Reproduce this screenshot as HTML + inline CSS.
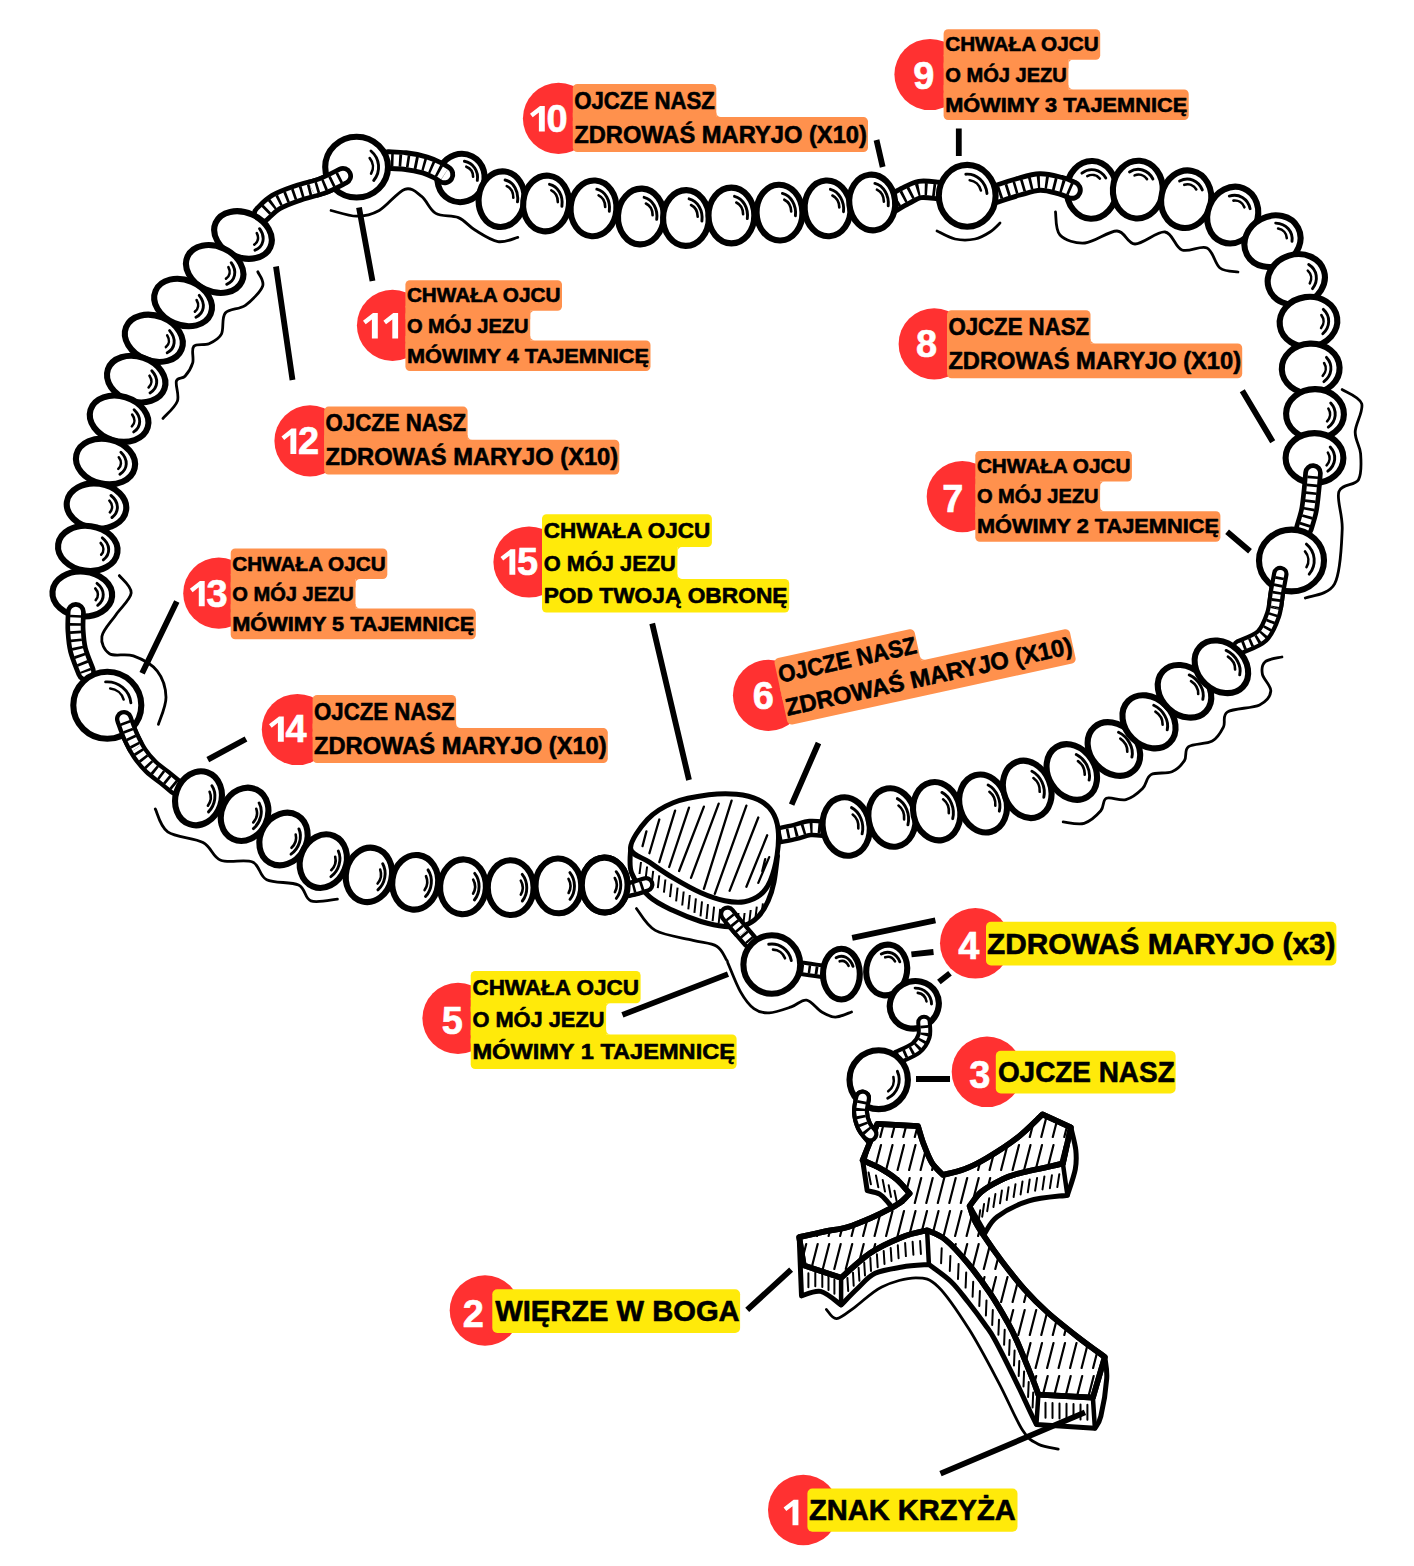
<!DOCTYPE html>
<html lang="pl"><head><meta charset="utf-8"><title>Różaniec</title>
<style>
html,body{margin:0;padding:0;background:#fff;}
body{width:1414px;height:1566px;overflow:hidden;font-family:"Liberation Sans",sans-serif;}
svg{display:block;}
</style></head><body>
<svg width="1414" height="1566" viewBox="0 0 1414 1566">
<defs><clipPath id="cc1"><circle cx="356.6" cy="167.1" r="50"/></clipPath><clipPath id="cc2"><circle cx="1291.5" cy="560.5" r="50"/></clipPath><clipPath id="cc3"><circle cx="107.3" cy="705.3" r="52"/></clipPath><clipPath id="cm"><path d="M630.6,848.2C630.8,852.3 628.5,864.9 631.6,873C634.7,881.1 642.5,890.4 649.4,896.7C656.3,903 664.6,906.5 673.2,910.6C681.8,914.7 692.3,918.9 700.9,921.5C709.5,924.1 717.4,925.8 724.7,926.4C732,927 738.9,927 744.5,925.4C750.1,923.8 754.3,920.6 758.3,916.5C762.2,912.4 765.6,906.5 768.2,900.7C770.8,895 772.5,889.5 774,882C775.5,874.5 776.9,860.3 777.5,856L700,850Z"/></clipPath><clipPath id="ct"><path d="M630.6,848.2C630.3,841.1 640.3,827.1 647.4,819.5C654.5,811.9 663,806.8 673.2,802.7C683.4,798.6 698.2,796.2 708.8,794.8C719.3,793.4 728.2,793.4 736.5,794.2C744.8,795 752.3,796.8 758.3,799.7C764.2,802.6 768.9,806.7 772.2,811.6C775.5,816.5 777.3,822.1 778.1,829.4C778.9,836.6 778.4,846.5 777.1,855.1C775.8,863.7 773,874.3 770.2,880.9C767.4,887.5 764.6,891.3 760.3,894.8C756,898.3 750.4,900.7 744.5,901.7C738.6,902.7 732,902.2 724.7,900.7C717.4,899.2 709.5,896.6 700.9,892.8C692.3,889 681.8,883 673.2,877.9C664.6,872.8 656.5,867 649.4,862.1C642.3,857.2 630.9,855.3 630.6,848.2Z"/></clipPath><clipPath id="cc4"><circle cx="729" cy="916" r="22"/></clipPath><clipPath id="cf"><path d="M877.3,1123.9L918,1126.2C919,1129.2 921.4,1138.3 923.7,1144.3C926,1150.3 928.5,1157.3 931.7,1162.4C934.9,1167.5 941,1172.8 942.9,1174.9C946.5,1174 957,1172 964.4,1169.2C971.8,1166.4 978.2,1163.2 987.1,1157.9C996,1152.6 1008.4,1144.8 1017.6,1137.5C1026.8,1130.2 1038.3,1118.2 1042.5,1114.4L1070.8,1127.3L1062.9,1163.6C1055.4,1165.3 1028.1,1170.9 1017.6,1173.7C1007.1,1176.5 1006,1177.5 1000,1180.5C994,1183.5 986.5,1187.5 981.4,1191.8C976.3,1196 971.6,1203.6 969.6,1206C970.5,1208.4 972.2,1215.2 974.7,1220.4C977.2,1225.6 980.4,1230.5 984.9,1237.3C989.4,1244.1 995.2,1252.4 1001.8,1261.1C1008.4,1269.8 1017,1280.9 1024.5,1289.4C1032,1297.9 1038.2,1304 1047.1,1312C1056,1320 1068.4,1329.7 1078,1337.2C1087.6,1344.7 1100.3,1353.7 1104.8,1357L1092.9,1397.6L1038.4,1394.7C1037.4,1392 1036.2,1387.9 1032.5,1378.8C1028.8,1369.7 1020.7,1349.4 1016.5,1340C1012.3,1330.6 1011.8,1329.9 1007.5,1322.2C1003.2,1314.5 997.1,1303.7 990.5,1293.9C983.9,1284.1 975.4,1272.5 967.9,1263.4C960.4,1254.4 952.1,1245.1 945.3,1239.6C938.5,1234.1 930.1,1231.8 927.1,1230.3C923,1231.4 911.6,1233.3 902.2,1237.1C892.8,1240.9 880.7,1246.1 870.5,1252.9C860.3,1259.7 846,1273.7 841.1,1277.8L803.8,1265.4L799.2,1237.1C803.6,1236.1 817.2,1233.1 825.3,1231.4C833.4,1229.7 839.9,1229.5 848,1227C856.1,1224.5 866.9,1219.7 873.9,1216.7C880.9,1213.7 885.3,1211.2 889.8,1208.8C894.3,1206.3 897.8,1204.5 901.1,1202C904.4,1199.5 908.2,1194.9 909.6,1193.5C907.4,1191.2 901.6,1183.6 896.6,1179.4C891.6,1175.2 885.3,1171.3 879.6,1168.1C873.9,1164.9 865.4,1161.5 862.6,1160.2Z"/></clipPath></defs>
<rect width="1414" height="1566" fill="#fff"/>
<g id="art">
<path d="M331.1,210.5C335.4,211.4 348.6,216.2 356.6,216.2C364.6,216.2 371.2,215 379.2,210.5C387.2,206 397.6,191.7 404.7,189.3C411.8,187 416.4,192.4 421.6,196.4C426.8,200.4 429.7,209.9 435.8,213.4C441.9,216.9 451.8,214.8 458.4,217.6C465,220.4 468.8,226.3 475.4,230.3C482,234.3 490.9,240.4 498,241.6C505.1,242.8 514.5,238.1 517.8,237.4" fill="none" stroke="#000" stroke-width="2.8" stroke-linecap="round"/>
<path d="M257.8,271.8C258.6,274.2 264.7,280.6 262.6,286.2C260.5,291.8 251.6,300.8 245.4,305.3C239.2,309.8 229.3,308.2 225.3,313C221.3,317.8 224.1,329 221.4,334.1C218.7,339.2 213.6,341.6 209,343.7C204.4,345.8 196.4,343.3 193.7,346.5C191,349.7 194.1,357.9 192.7,362.8C191.2,367.8 187.7,373.2 185,376.2C182.3,379.2 177.7,376.9 176.4,381C175.1,385.1 179.6,394.9 177.4,401.1C175.2,407.3 165.4,415.5 163,418.4" fill="none" stroke="#000" stroke-width="2.8" stroke-linecap="round"/>
<path d="M937,231C940,232.3 948.7,237.7 955,239C961.3,240.3 969.2,240.2 975,239C980.8,237.8 985.8,234.7 990,232C994.2,229.3 998.3,224.5 1000,223" fill="none" stroke="#000" stroke-width="2.8" stroke-linecap="round"/>
<path d="M1055.5,212C1056.2,215.8 1055.1,229.8 1060,235C1064.9,240.2 1075.5,243.7 1085,243C1094.5,242.3 1108.7,230.8 1117,231C1125.3,231.2 1127,243.8 1135,244C1143,244.2 1157.2,231 1165,232C1172.8,233 1175,247.3 1182,250C1189,252.7 1200.7,245 1207,248C1213.3,251 1214.8,264 1220,268C1225.2,272 1235,271.3 1238,272" fill="none" stroke="#000" stroke-width="2.8" stroke-linecap="round"/>
<path d="M1342.2,389.6C1345.5,392 1359.5,396.6 1361.7,403.7C1363.9,410.8 1355.4,423.6 1355.2,431.9C1355,440.2 1360,445.6 1360.6,453.6C1361.1,461.6 1362.1,473.4 1358.5,479.7C1354.9,486 1341.6,483.3 1338.9,491.6C1336.2,499.9 1342.9,514.2 1342.2,529.6C1341.5,545 1340.8,572.5 1334.6,583.9C1328.4,595.3 1310.2,595.6 1305.3,598" fill="none" stroke="#000" stroke-width="2.8" stroke-linecap="round"/>
<path d="M1281.9,657C1279.1,657.8 1268.5,658.8 1265.2,661.7C1262,664.6 1261.5,669.3 1262.4,674.2C1263.3,679.1 1271.3,685.9 1270.8,691C1270.3,696.1 1266.8,701.4 1259.6,704.9C1252.4,708.4 1233.6,708.2 1227.6,711.9C1221.6,715.6 1226,722.3 1223.4,727.2C1220.9,732.1 1218.1,737.9 1212.3,741.1C1206.5,744.4 1193.2,743.5 1188.6,746.7C1183.9,750 1187.2,756.4 1184.4,760.6C1181.6,764.8 1177.5,769.5 1171.9,771.8C1166.3,774.1 1155.9,771.8 1151,774.6C1146.1,777.4 1146.8,784.3 1142.6,788.5C1138.4,792.7 1131.9,798 1125.9,799.6C1119.9,801.2 1110.6,796.3 1106.4,798.2C1102.2,800.1 1104.5,806.6 1100.8,810.8C1097.1,815 1090.4,821.4 1084.1,823.3C1077.8,825.1 1066.7,822.1 1063.2,821.9" fill="none" stroke="#000" stroke-width="2.8" stroke-linecap="round"/>
<path d="M119.3,575.6C121.3,578.5 131.8,586.4 131.2,592.9C130.6,599.4 120.9,607.5 116,614.7C111.1,622 103,629.9 101.9,636.4C100.8,642.9 104.2,650.5 109.5,653.7C114.8,657 125.4,653 133.4,655.9C141.4,658.8 151.9,664.2 157.3,671.1C162.7,678 165.8,688.3 166,697.2C166.2,706.1 159.7,719.8 158.4,724.3" fill="none" stroke="#000" stroke-width="2.8" stroke-linecap="round"/>
<path d="M155.3,809C157.4,812.8 159.8,826.3 167.7,831.9C175.6,837.5 194.2,837.8 203,842.5C211.8,847.2 212.4,857 220.7,860.2C228.9,863.5 244.8,858.8 252.5,862C260.2,865.2 259,875.9 266.7,879.7C274.4,883.5 291.1,881.5 298.5,885C305.9,888.5 304.4,898.5 310.9,900.9C317.4,903.2 333,899.4 337.4,899.1" fill="none" stroke="#000" stroke-width="2.8" stroke-linecap="round"/>
<path d="M636.5,908.6C639.6,912.2 645.9,925.1 655.3,930.4C664.7,935.7 682.8,937.7 693,940.3C703.2,942.9 711.1,942.9 716.7,946.2C722.3,949.5 724.6,957 726.6,960C728.6,963 726.2,959.2 728.5,964.5C730.8,969.8 736.2,984.2 740.4,991.6C744.6,999 749.1,1005.1 753.9,1008.6C758.7,1012.1 763,1013.2 769.2,1012.9C775.4,1012.6 785.1,1009 791.3,1006.9C797.5,1004.8 801.5,999.2 806.6,1000.1C811.7,1001 817,1009.2 821.8,1012C826.6,1014.8 830.4,1017.1 835.4,1017.1C840.4,1017.1 848.8,1012.9 851.5,1012" fill="none" stroke="#000" stroke-width="2.8" stroke-linecap="round"/>
<path d="M826.4,1309.5C828.1,1311 831.9,1319 836.6,1318.6C841.3,1318.2 847.2,1312.6 854.7,1307.3C862.2,1302 871.6,1291.8 881.8,1286.9C892,1282 906.4,1277.8 915.8,1277.8C925.2,1277.8 929.5,1278.3 938.4,1286.9C947.3,1295.5 959,1313.3 969.1,1329.3C979.2,1345.3 989.9,1366 998.8,1382.8C1007.7,1399.6 1016,1420.1 1022.6,1430.3C1029.2,1440.5 1032.5,1441.1 1038.4,1444.2C1044.3,1447.3 1054.9,1448.3 1058.2,1449.1" fill="none" stroke="#000" stroke-width="2.8" stroke-linecap="round"/>
<path d="M893,203C895,201.8 900.5,198.2 905,196C909.5,193.8 914.5,190.4 920,189.5C925.5,188.6 935,190.3 938,190.5" fill="none" stroke="#000" stroke-width="21.5" stroke-linecap="round"/><path d="M893,203C895,201.8 900.5,198.2 905,196C909.5,193.8 914.5,190.4 920,189.5C925.5,188.6 935,190.3 938,190.5" fill="none" stroke="#fff" stroke-width="11.7" stroke-linecap="round"/><path d="M893,203C895,201.8 900.5,198.2 905,196C909.5,193.8 914.5,190.4 920,189.5C925.5,188.6 935,190.3 938,190.5" fill="none" stroke="#000" stroke-width="12.3" stroke-dasharray="2.7 5.3" stroke-dashoffset="-3"/>
<path d="M776,836C779.2,835.3 789.3,833.3 795,832C800.7,830.7 804.8,828.5 810,828C815.2,827.5 823.3,828.8 826,829" fill="none" stroke="#000" stroke-width="18.5" stroke-linecap="round"/><path d="M776,836C779.2,835.3 789.3,833.3 795,832C800.7,830.7 804.8,828.5 810,828C815.2,827.5 823.3,828.8 826,829" fill="none" stroke="#fff" stroke-width="9.7" stroke-linecap="round"/><path d="M776,836C779.2,835.3 789.3,833.3 795,832C800.7,830.7 804.8,828.5 810,828C815.2,827.5 823.3,828.8 826,829" fill="none" stroke="#000" stroke-width="10.3" stroke-dasharray="2.7 5.3" stroke-dashoffset="-3"/>
<path d="M1280.3,574C1279.8,577 1278.2,585.2 1277,592C1275.8,598.8 1275.5,607.7 1273,615C1270.5,622.3 1267.5,630.7 1262,636C1256.5,641.3 1243.7,645.2 1240,647" fill="none" stroke="#000" stroke-width="16.5" stroke-linecap="round"/><path d="M1280.3,574C1279.8,577 1278.2,585.2 1277,592C1275.8,598.8 1275.5,607.7 1273,615C1270.5,622.3 1267.5,630.7 1262,636C1256.5,641.3 1243.7,645.2 1240,647" fill="none" stroke="#fff" stroke-width="8.1" stroke-linecap="round"/><path d="M1280.3,574C1279.8,577 1278.2,585.2 1277,592C1275.8,598.8 1275.5,607.7 1273,615C1270.5,622.3 1267.5,630.7 1262,636C1256.5,641.3 1243.7,645.2 1240,647" fill="none" stroke="#000" stroke-width="8.7" stroke-dasharray="2.7 4.7" stroke-dashoffset="-3"/>
<path d="M124,719C125.1,721.9 127.9,730.5 130.5,736.2C133.1,741.9 136.2,748.1 139.6,753.2C143,758.3 146.8,762.7 150.9,766.7C155.1,770.8 160.3,774.1 164.5,777.5C168.7,780.9 174.1,785.4 176,787" fill="none" stroke="#000" stroke-width="18" stroke-linecap="round"/><path d="M124,719C125.1,721.9 127.9,730.5 130.5,736.2C133.1,741.9 136.2,748.1 139.6,753.2C143,758.3 146.8,762.7 150.9,766.7C155.1,770.8 160.3,774.1 164.5,777.5C168.7,780.9 174.1,785.4 176,787" fill="none" stroke="#fff" stroke-width="9.4" stroke-linecap="round"/><path d="M124,719C125.1,721.9 127.9,730.5 130.5,736.2C133.1,741.9 136.2,748.1 139.6,753.2C143,758.3 146.8,762.7 150.9,766.7C155.1,770.8 160.3,774.1 164.5,777.5C168.7,780.9 174.1,785.4 176,787" fill="none" stroke="#000" stroke-width="10" stroke-dasharray="2.7 5.3" stroke-dashoffset="-3"/>
<path d="M343,176C339.5,177.7 329.5,183.2 322,186C314.5,188.8 305.7,190.3 298,193C290.3,195.7 282,198.5 276,202C270,205.5 264.3,212 262,214" fill="none" stroke="#000" stroke-width="20" stroke-linecap="round"/><path d="M343,176C339.5,177.7 329.5,183.2 322,186C314.5,188.8 305.7,190.3 298,193C290.3,195.7 282,198.5 276,202C270,205.5 264.3,212 262,214" fill="none" stroke="#fff" stroke-width="10.6" stroke-linecap="round"/><path d="M343,176C339.5,177.7 329.5,183.2 322,186C314.5,188.8 305.7,190.3 298,193C290.3,195.7 282,198.5 276,202C270,205.5 264.3,212 262,214" fill="none" stroke="#000" stroke-width="11.2" stroke-dasharray="2.7 5.3" stroke-dashoffset="-3"/>
<path d="M798,968C800,968.2 805.7,968.9 810,969.5C814.3,970.1 821.7,971.2 824,971.5" fill="none" stroke="#000" stroke-width="15.5" stroke-linecap="round"/><path d="M798,968C800,968.2 805.7,968.9 810,969.5C814.3,970.1 821.7,971.2 824,971.5" fill="none" stroke="#fff" stroke-width="7.5" stroke-linecap="round"/><path d="M798,968C800,968.2 805.7,968.9 810,969.5C814.3,970.1 821.7,971.2 824,971.5" fill="none" stroke="#000" stroke-width="8.1" stroke-dasharray="2.7 4.5" stroke-dashoffset="-3"/>
<path d="M622,891C624.2,890.5 631,889.1 635,888C639,886.9 644.2,885.1 646,884.5" fill="none" stroke="#000" stroke-width="16" stroke-linecap="round"/><path d="M622,891C624.2,890.5 631,889.1 635,888C639,886.9 644.2,885.1 646,884.5" fill="none" stroke="#fff" stroke-width="7.4" stroke-linecap="round"/><path d="M622,891C624.2,890.5 631,889.1 635,888C639,886.9 644.2,885.1 646,884.5" fill="none" stroke="#000" stroke-width="8" stroke-dasharray="2.7 5.3" stroke-dashoffset="-3"/>
<g transform="translate(461 178) rotate(27.6)"><ellipse rx="23.4" ry="24.4" fill="#fff" stroke="#000" stroke-width="6.1"/></g><path d="M464.4,161.3 A16.4,17.1 27.6 0 1 477.3,180.4" fill="none" stroke="#000" stroke-width="2.9" stroke-linecap="round"/><path d="M466.3,166.7 A10.8,11.2 27.6 0 1 473.1,176.8" fill="none" stroke="#000" stroke-width="2.6" stroke-linecap="round"/><g transform="translate(501.6 199.2) rotate(187)"><ellipse rx="22.9" ry="27.9" fill="#fff" stroke="#000" stroke-width="6.1"/></g><path d="M505.1,180 A16.1,19.6 187 0 1 517.5,201.8" fill="none" stroke="#000" stroke-width="2.9" stroke-linecap="round"/><path d="M506.8,186.1 A10.6,12.9 187 0 1 513.3,197.7" fill="none" stroke="#000" stroke-width="2.6" stroke-linecap="round"/><g transform="translate(546.1 203.5) rotate(186)"><ellipse rx="22.9" ry="27.9" fill="#fff" stroke="#000" stroke-width="6.1"/></g><path d="M549.5,184.3 A16.1,19.6 186 0 1 561.9,206.2" fill="none" stroke="#000" stroke-width="2.9" stroke-linecap="round"/><path d="M551.3,190.4 A10.6,12.9 186 0 1 557.8,202.1" fill="none" stroke="#000" stroke-width="2.6" stroke-linecap="round"/><g transform="translate(593.5 208.4) rotate(184)"><ellipse rx="22.9" ry="27.9" fill="#fff" stroke="#000" stroke-width="6.1"/></g><path d="M596.8,189.2 A16.1,19.6 184 0 1 609.3,211.2" fill="none" stroke="#000" stroke-width="2.9" stroke-linecap="round"/><path d="M598.6,195.4 A10.6,12.9 184 0 1 605.2,207" fill="none" stroke="#000" stroke-width="2.6" stroke-linecap="round"/><g transform="translate(640.9 216.5) rotate(183)"><ellipse rx="22.9" ry="27.9" fill="#fff" stroke="#000" stroke-width="6.1"/></g><path d="M644.1,197.3 A16.1,19.6 183 0 1 656.7,219.4" fill="none" stroke="#000" stroke-width="2.9" stroke-linecap="round"/><path d="M645.9,203.5 A10.6,12.9 183 0 1 652.6,215.2" fill="none" stroke="#000" stroke-width="2.6" stroke-linecap="round"/><g transform="translate(686 218) rotate(181)"><ellipse rx="22.9" ry="27.9" fill="#fff" stroke="#000" stroke-width="6.1"/></g><path d="M689.1,198.8 A16.1,19.6 181 0 1 701.9,221" fill="none" stroke="#000" stroke-width="2.9" stroke-linecap="round"/><path d="M691,205 A10.6,12.9 181 0 1 697.7,216.8" fill="none" stroke="#000" stroke-width="2.6" stroke-linecap="round"/><g transform="translate(731.4 215.5) rotate(180)"><ellipse rx="22.9" ry="27.9" fill="#fff" stroke="#000" stroke-width="6.1"/></g><path d="M734.5,196.3 A16.1,19.6 180 0 1 747.3,218.6" fill="none" stroke="#000" stroke-width="2.9" stroke-linecap="round"/><path d="M736.3,202.5 A10.6,12.9 180 0 1 743.1,214.3" fill="none" stroke="#000" stroke-width="2.6" stroke-linecap="round"/><g transform="translate(779.5 212.6) rotate(178)"><ellipse rx="22.9" ry="27.9" fill="#fff" stroke="#000" stroke-width="6.1"/></g><path d="M782.4,193.4 A16.1,19.6 178 0 1 795.4,215.8" fill="none" stroke="#000" stroke-width="2.9" stroke-linecap="round"/><path d="M784.3,199.7 A10.6,12.9 178 0 1 791.2,211.5" fill="none" stroke="#000" stroke-width="2.6" stroke-linecap="round"/><g transform="translate(827.6 208.4) rotate(176)"><ellipse rx="22.9" ry="27.9" fill="#fff" stroke="#000" stroke-width="6.1"/></g><path d="M830.4,189.3 A16.1,19.6 176 0 1 843.5,211.7" fill="none" stroke="#000" stroke-width="2.9" stroke-linecap="round"/><path d="M832.4,195.5 A10.6,12.9 176 0 1 839.3,207.4" fill="none" stroke="#000" stroke-width="2.6" stroke-linecap="round"/><g transform="translate(872.2 202.5) rotate(174)"><ellipse rx="22.9" ry="27.9" fill="#fff" stroke="#000" stroke-width="6.1"/></g><path d="M874.9,183.4 A16.1,19.6 174 0 1 888.2,205.9" fill="none" stroke="#000" stroke-width="2.9" stroke-linecap="round"/><path d="M876.9,189.7 A10.6,12.9 174 0 1 883.9,201.6" fill="none" stroke="#000" stroke-width="2.6" stroke-linecap="round"/>
<g transform="translate(1091.6 189.9) rotate(182)"><ellipse rx="24.9" ry="28.9" fill="#fff" stroke="#000" stroke-width="6.1"/></g><path d="M1081.9,173.2 A17.5,20.3 182 0 1 1105.8,177.9" fill="none" stroke="#000" stroke-width="2.9" stroke-linecap="round"/><path d="M1087.3,176.1 A11.5,13.3 182 0 1 1099.9,178.6" fill="none" stroke="#000" stroke-width="2.6" stroke-linecap="round"/><g transform="translate(1137.8 189.6) rotate(184)"><ellipse rx="24.9" ry="28.9" fill="#fff" stroke="#000" stroke-width="6.1"/></g><path d="M1129.5,172 A17.5,20.3 184 0 1 1152.9,179" fill="none" stroke="#000" stroke-width="2.9" stroke-linecap="round"/><path d="M1134.6,175.4 A11.5,13.3 184 0 1 1147,179.1" fill="none" stroke="#000" stroke-width="2.6" stroke-linecap="round"/><g transform="translate(1186.2 199.2) rotate(192)"><ellipse rx="24.9" ry="28.9" fill="#fff" stroke="#000" stroke-width="6.1"/></g><path d="M1179.6,181 A17.5,20.3 192 0 1 1202.3,189.9" fill="none" stroke="#000" stroke-width="2.9" stroke-linecap="round"/><path d="M1184.3,184.8 A11.5,13.3 192 0 1 1196.3,189.5" fill="none" stroke="#000" stroke-width="2.6" stroke-linecap="round"/><g transform="translate(1232.7 215.1) rotate(202)"><ellipse rx="24.9" ry="28.9" fill="#fff" stroke="#000" stroke-width="6.1"/></g><path d="M1229.3,196.1 A17.5,20.3 202 0 1 1250.1,208.7" fill="none" stroke="#000" stroke-width="2.9" stroke-linecap="round"/><path d="M1233.4,200.6 A11.5,13.3 202 0 1 1244.4,207.3" fill="none" stroke="#000" stroke-width="2.6" stroke-linecap="round"/><g transform="translate(1272.5 241.2) rotate(242)"><ellipse rx="24.9" ry="28.9" fill="#fff" stroke="#000" stroke-width="6.1"/></g><path d="M1275.7,223.1 A17.5,20.3 242 0 1 1292,241.3" fill="none" stroke="#000" stroke-width="2.9" stroke-linecap="round"/><path d="M1278.1,228.5 A11.5,13.3 242 0 1 1286.8,238.1" fill="none" stroke="#000" stroke-width="2.6" stroke-linecap="round"/><g transform="translate(1296.3 279.4) rotate(253)"><ellipse rx="24.9" ry="28.9" fill="#fff" stroke="#000" stroke-width="6.1"/></g><path d="M1308.7,264.6 A17.5,20.3 253 0 1 1312.5,288.7" fill="none" stroke="#000" stroke-width="2.9" stroke-linecap="round"/><path d="M1307.8,270.6 A11.5,13.3 253 0 1 1309.8,283.3" fill="none" stroke="#000" stroke-width="2.6" stroke-linecap="round"/><g transform="translate(1308.5 321.8) rotate(262)"><ellipse rx="24.9" ry="28.9" fill="#fff" stroke="#000" stroke-width="6.1"/></g><path d="M1323.3,309.4 A17.5,20.3 262 0 1 1322.8,333.7" fill="none" stroke="#000" stroke-width="2.9" stroke-linecap="round"/><path d="M1321.4,315.1 A11.5,13.3 262 0 1 1321.1,328" fill="none" stroke="#000" stroke-width="2.6" stroke-linecap="round"/><g transform="translate(1310.7 368.5) rotate(268)"><ellipse rx="24.9" ry="28.9" fill="#fff" stroke="#000" stroke-width="6.1"/></g><path d="M1326.5,357.4 A17.5,20.3 268 0 1 1323.9,381.6" fill="none" stroke="#000" stroke-width="2.9" stroke-linecap="round"/><path d="M1324.1,363 A11.5,13.3 268 0 1 1322.7,375.8" fill="none" stroke="#000" stroke-width="2.6" stroke-linecap="round"/><g transform="translate(1315 414) rotate(271)"><ellipse rx="24.9" ry="28.9" fill="#fff" stroke="#000" stroke-width="6.1"/></g><path d="M1330.7,403 A17.5,20.3 271 0 1 1328.3,427.2" fill="none" stroke="#000" stroke-width="2.9" stroke-linecap="round"/><path d="M1328.4,408.6 A11.5,13.3 271 0 1 1327.1,421.4" fill="none" stroke="#000" stroke-width="2.6" stroke-linecap="round"/><g transform="translate(1314.5 458) rotate(270)"><ellipse rx="24.9" ry="28.9" fill="#fff" stroke="#000" stroke-width="6.1"/></g><path d="M1330.2,447 A17.5,20.3 270 0 1 1327.8,471.2" fill="none" stroke="#000" stroke-width="2.9" stroke-linecap="round"/><path d="M1327.9,452.6 A11.5,13.3 270 0 1 1326.6,465.4" fill="none" stroke="#000" stroke-width="2.6" stroke-linecap="round"/>
<g transform="translate(846.2 826.5) rotate(170)"><ellipse rx="23.4" ry="29.4" fill="#fff" stroke="#000" stroke-width="6.1"/></g><path d="M851.5,807.6 A16.4,20.6 170 0 1 862.1,833.8" fill="none" stroke="#000" stroke-width="2.9" stroke-linecap="round"/><path d="M852.7,814.5 A10.8,13.5 170 0 1 858.3,828.4" fill="none" stroke="#000" stroke-width="2.6" stroke-linecap="round"/><g transform="translate(892 817.5) rotate(170)"><ellipse rx="23.4" ry="29.4" fill="#fff" stroke="#000" stroke-width="6.1"/></g><path d="M897.3,798.6 A16.4,20.6 170 0 1 907.9,824.8" fill="none" stroke="#000" stroke-width="2.9" stroke-linecap="round"/><path d="M898.5,805.5 A10.8,13.5 170 0 1 904.1,819.4" fill="none" stroke="#000" stroke-width="2.6" stroke-linecap="round"/><g transform="translate(936.7 811.2) rotate(168)"><ellipse rx="23.4" ry="29.4" fill="#fff" stroke="#000" stroke-width="6.1"/></g><path d="M941.9,792.4 A16.4,20.6 168 0 1 952.7,818.7" fill="none" stroke="#000" stroke-width="2.9" stroke-linecap="round"/><path d="M943.1,799.3 A10.8,13.5 168 0 1 948.8,813.2" fill="none" stroke="#000" stroke-width="2.6" stroke-linecap="round"/><g transform="translate(983.1 803.5) rotate(164)"><ellipse rx="23.4" ry="29.4" fill="#fff" stroke="#000" stroke-width="6.1"/></g><path d="M988.1,785 A16.4,20.6 164 0 1 999.3,811.2" fill="none" stroke="#000" stroke-width="2.9" stroke-linecap="round"/><path d="M989.4,791.8 A10.8,13.5 164 0 1 995.3,805.7" fill="none" stroke="#000" stroke-width="2.6" stroke-linecap="round"/><g transform="translate(1027.2 789.4) rotate(158)"><ellipse rx="23.4" ry="29.4" fill="#fff" stroke="#000" stroke-width="6.1"/></g><path d="M1031.9,771.2 A16.4,20.6 158 0 1 1043.8,797.3" fill="none" stroke="#000" stroke-width="2.9" stroke-linecap="round"/><path d="M1033.4,778 A10.8,13.5 158 0 1 1039.7,791.8" fill="none" stroke="#000" stroke-width="2.6" stroke-linecap="round"/><g transform="translate(1071.8 772) rotate(148)"><ellipse rx="23.4" ry="29.4" fill="#fff" stroke="#000" stroke-width="6.1"/></g><path d="M1076.3,754.5 A16.4,20.6 148 0 1 1089.1,780.1" fill="none" stroke="#000" stroke-width="2.9" stroke-linecap="round"/><path d="M1078,761.1 A10.8,13.5 148 0 1 1084.7,774.7" fill="none" stroke="#000" stroke-width="2.6" stroke-linecap="round"/><g transform="translate(1113.9 749) rotate(138)"><ellipse rx="23.4" ry="29.4" fill="#fff" stroke="#000" stroke-width="6.1"/></g><path d="M1118.5,732.3 A16.4,20.6 138 0 1 1131.9,757.1" fill="none" stroke="#000" stroke-width="2.9" stroke-linecap="round"/><path d="M1120.3,738.6 A10.8,13.5 138 0 1 1127.3,751.8" fill="none" stroke="#000" stroke-width="2.6" stroke-linecap="round"/><g transform="translate(1149 721.8) rotate(135)"><ellipse rx="23.4" ry="29.4" fill="#fff" stroke="#000" stroke-width="6.1"/></g><path d="M1153.7,705.3 A16.4,20.6 135 0 1 1167.2,729.8" fill="none" stroke="#000" stroke-width="2.9" stroke-linecap="round"/><path d="M1155.4,711.6 A10.8,13.5 135 0 1 1162.6,724.6" fill="none" stroke="#000" stroke-width="2.6" stroke-linecap="round"/><g transform="translate(1184.5 691.3) rotate(133)"><ellipse rx="23.4" ry="29.4" fill="#fff" stroke="#000" stroke-width="6.1"/></g><path d="M1189.2,674.9 A16.4,20.6 133 0 1 1202.8,699.3" fill="none" stroke="#000" stroke-width="2.9" stroke-linecap="round"/><path d="M1191,681.2 A10.8,13.5 133 0 1 1198.2,694" fill="none" stroke="#000" stroke-width="2.6" stroke-linecap="round"/><g transform="translate(1221.4 666.8) rotate(133)"><ellipse rx="23.4" ry="29.4" fill="#fff" stroke="#000" stroke-width="6.1"/></g><path d="M1226.1,650.4 A16.4,20.6 133 0 1 1239.7,674.8" fill="none" stroke="#000" stroke-width="2.9" stroke-linecap="round"/><path d="M1227.9,656.7 A10.8,13.5 133 0 1 1235.1,669.5" fill="none" stroke="#000" stroke-width="2.6" stroke-linecap="round"/>
<g transform="translate(198.5 798.3) rotate(19.1)"><ellipse rx="22.9" ry="27.4" fill="#fff" stroke="#000" stroke-width="6.1"/></g><path d="M211.9,785.7 A16.1,19.2 19.1 0 1 208.5,811.9" fill="none" stroke="#000" stroke-width="2.9" stroke-linecap="round"/><path d="M209.6,791.8 A10.6,12.6 19.1 0 1 207.9,805.7" fill="none" stroke="#000" stroke-width="2.6" stroke-linecap="round"/><g transform="translate(244.6 814.3) rotate(25.6)"><ellipse rx="22.9" ry="27.4" fill="#fff" stroke="#000" stroke-width="6.1"/></g><path d="M259.1,802.9 A16.1,19.2 25.6 0 1 253.4,828.6" fill="none" stroke="#000" stroke-width="2.9" stroke-linecap="round"/><path d="M256.3,808.8 A10.6,12.6 25.6 0 1 253.3,822.4" fill="none" stroke="#000" stroke-width="2.6" stroke-linecap="round"/><g transform="translate(283.5 839) rotate(30.7)"><ellipse rx="22.9" ry="27.4" fill="#fff" stroke="#000" stroke-width="6.1"/></g><path d="M298.9,828.9 A16.1,19.2 30.7 0 1 291,854.1" fill="none" stroke="#000" stroke-width="2.9" stroke-linecap="round"/><path d="M295.7,834.5 A10.6,12.6 30.7 0 1 291.5,847.8" fill="none" stroke="#000" stroke-width="2.6" stroke-linecap="round"/><g transform="translate(323.3 861.1) rotate(22.8)"><ellipse rx="22.9" ry="27.4" fill="#fff" stroke="#000" stroke-width="6.1"/></g><path d="M338.3,851 A16.1,19.2 22.8 0 1 330.9,876.6" fill="none" stroke="#000" stroke-width="2.9" stroke-linecap="round"/><path d="M335.2,856.7 A10.6,12.6 22.8 0 1 331.2,870.2" fill="none" stroke="#000" stroke-width="2.6" stroke-linecap="round"/><g transform="translate(368.9 874.9) rotate(13)"><ellipse rx="22.9" ry="27.4" fill="#fff" stroke="#000" stroke-width="6.1"/></g><path d="M382.7,863.7 A16.1,19.2 13 0 1 377.9,889.9" fill="none" stroke="#000" stroke-width="2.9" stroke-linecap="round"/><path d="M380.2,869.6 A10.6,12.6 13 0 1 377.6,883.5" fill="none" stroke="#000" stroke-width="2.6" stroke-linecap="round"/><g transform="translate(415.2 882.3) rotate(7.2)"><ellipse rx="22.9" ry="27.4" fill="#fff" stroke="#000" stroke-width="6.1"/></g><path d="M428,869.9 A16.1,19.2 7.2 0 1 425.5,896.5" fill="none" stroke="#000" stroke-width="2.9" stroke-linecap="round"/><path d="M426,876.1 A10.6,12.6 7.2 0 1 424.6,890.1" fill="none" stroke="#000" stroke-width="2.6" stroke-linecap="round"/><g transform="translate(463 886.8) rotate(3.2)"><ellipse rx="22.9" ry="27.4" fill="#fff" stroke="#000" stroke-width="6.1"/></g><path d="M474.7,873.3 A16.1,19.2 3.2 0 1 474.4,900" fill="none" stroke="#000" stroke-width="2.9" stroke-linecap="round"/><path d="M473.2,879.6 A10.6,12.6 3.2 0 1 473.1,893.7" fill="none" stroke="#000" stroke-width="2.6" stroke-linecap="round"/><g transform="translate(510.7 887.6) rotate(-0.5)"><ellipse rx="22.9" ry="27.4" fill="#fff" stroke="#000" stroke-width="6.1"/></g><path d="M522.2,874.3 A16.1,19.2 -0.5 0 1 522.3,901" fill="none" stroke="#000" stroke-width="2.9" stroke-linecap="round"/><path d="M520.8,880.6 A10.6,12.6 -0.5 0 1 520.8,894.7" fill="none" stroke="#000" stroke-width="2.6" stroke-linecap="round"/><g transform="translate(558.4 885.9) rotate(-1.6)"><ellipse rx="22.9" ry="27.4" fill="#fff" stroke="#000" stroke-width="6.1"/></g><path d="M569.9,872.6 A16.1,19.2 -1.6 0 1 570,899.3" fill="none" stroke="#000" stroke-width="2.9" stroke-linecap="round"/><path d="M568.5,878.9 A10.6,12.6 -1.6 0 1 568.6,893" fill="none" stroke="#000" stroke-width="2.6" stroke-linecap="round"/><g transform="translate(604.7 885) rotate(-1.1)"><ellipse rx="22.9" ry="27.4" fill="#fff" stroke="#000" stroke-width="6.1"/></g><path d="M616.2,871.7 A16.1,19.2 -1.1 0 1 616.3,898.4" fill="none" stroke="#000" stroke-width="2.9" stroke-linecap="round"/><path d="M614.8,878 A10.6,12.6 -1.1 0 1 614.9,892.1" fill="none" stroke="#000" stroke-width="2.6" stroke-linecap="round"/>
<g transform="translate(243 235) rotate(114)"><ellipse rx="22.4" ry="29.9" fill="#fff" stroke="#000" stroke-width="6.1"/></g><path d="M259.6,228.7 A15.7,21 114 0 1 255,250.2" fill="none" stroke="#000" stroke-width="2.9" stroke-linecap="round"/><path d="M256.8,233.2 A10.3,13.8 114 0 1 254.3,244.6" fill="none" stroke="#000" stroke-width="2.6" stroke-linecap="round"/><g transform="translate(214.7 269) rotate(115)"><ellipse rx="22.4" ry="29.9" fill="#fff" stroke="#000" stroke-width="6.1"/></g><path d="M231.2,262.7 A15.7,21 115 0 1 226.7,284.3" fill="none" stroke="#000" stroke-width="2.9" stroke-linecap="round"/><path d="M228.4,267.2 A10.3,13.8 115 0 1 226,278.7" fill="none" stroke="#000" stroke-width="2.6" stroke-linecap="round"/><g transform="translate(183.1 302.5) rotate(113)"><ellipse rx="22.4" ry="29.9" fill="#fff" stroke="#000" stroke-width="6.1"/></g><path d="M199.2,295.3 A15.7,21 113 0 1 195.9,317.2" fill="none" stroke="#000" stroke-width="2.9" stroke-linecap="round"/><path d="M196.6,300 A10.3,13.8 113 0 1 194.9,311.6" fill="none" stroke="#000" stroke-width="2.6" stroke-linecap="round"/><g transform="translate(153.8 338.3) rotate(112)"><ellipse rx="22.4" ry="29.9" fill="#fff" stroke="#000" stroke-width="6.1"/></g><path d="M169.6,330.6 A15.7,21 112 0 1 167.2,352.7" fill="none" stroke="#000" stroke-width="2.9" stroke-linecap="round"/><path d="M167.2,335.4 A10.3,13.8 112 0 1 165.9,347.1" fill="none" stroke="#000" stroke-width="2.6" stroke-linecap="round"/><g transform="translate(136.2 379.1) rotate(109)"><ellipse rx="22.4" ry="29.9" fill="#fff" stroke="#000" stroke-width="6.1"/></g><path d="M151.8,370.8 A15.7,21 109 0 1 150,392.9" fill="none" stroke="#000" stroke-width="2.9" stroke-linecap="round"/><path d="M149.5,375.7 A10.3,13.8 109 0 1 148.6,387.4" fill="none" stroke="#000" stroke-width="2.6" stroke-linecap="round"/><g transform="translate(119.1 418.7) rotate(107)"><ellipse rx="22.4" ry="29.9" fill="#fff" stroke="#000" stroke-width="6.1"/></g><path d="M134.1,409.7 A15.7,21 107 0 1 133.7,431.9" fill="none" stroke="#000" stroke-width="2.9" stroke-linecap="round"/><path d="M132.2,414.6 A10.3,13.8 107 0 1 131.9,426.4" fill="none" stroke="#000" stroke-width="2.6" stroke-linecap="round"/><g transform="translate(105.5 461.5) rotate(103)"><ellipse rx="22.4" ry="29.9" fill="#fff" stroke="#000" stroke-width="6.1"/></g><path d="M120.9,452.3 A15.7,21 103 0 1 119.9,474.3" fill="none" stroke="#000" stroke-width="2.9" stroke-linecap="round"/><path d="M118.8,457.3 A10.3,13.8 103 0 1 118.3,468.9" fill="none" stroke="#000" stroke-width="2.6" stroke-linecap="round"/><g transform="translate(96.5 506) rotate(98)"><ellipse rx="22.4" ry="29.9" fill="#fff" stroke="#000" stroke-width="6.1"/></g><path d="M111,495.5 A15.7,21 98 0 1 112,517.5" fill="none" stroke="#000" stroke-width="2.9" stroke-linecap="round"/><path d="M109.4,500.6 A10.3,13.8 98 0 1 109.9,512.3" fill="none" stroke="#000" stroke-width="2.6" stroke-linecap="round"/><g transform="translate(87.8 548.4) rotate(98)"><ellipse rx="22.4" ry="29.9" fill="#fff" stroke="#000" stroke-width="6.1"/></g><path d="M102.3,537.9 A15.7,21 98 0 1 103.3,559.9" fill="none" stroke="#000" stroke-width="2.9" stroke-linecap="round"/><path d="M100.7,543 A10.3,13.8 98 0 1 101.2,554.7" fill="none" stroke="#000" stroke-width="2.6" stroke-linecap="round"/><g transform="translate(82.3 594) rotate(95)"><ellipse rx="22.4" ry="29.9" fill="#fff" stroke="#000" stroke-width="6.1"/></g><path d="M97,583.4 A15.7,21 95 0 1 97.7,605.3" fill="none" stroke="#000" stroke-width="2.9" stroke-linecap="round"/><path d="M95.3,588.5 A10.3,13.8 95 0 1 95.7,600.1" fill="none" stroke="#000" stroke-width="2.6" stroke-linecap="round"/>
<path d="M388,160C390.8,160.2 398.8,160.2 405,161C411.2,161.8 419.5,163.4 425,165C430.5,166.6 434.8,168.9 438,170.5C441.2,172.1 443.4,173.8 444.5,174.5" fill="none" stroke="#000" stroke-width="21.5" stroke-linecap="round"/><path d="M388,160C390.8,160.2 398.8,160.2 405,161C411.2,161.8 419.5,163.4 425,165C430.5,166.6 434.8,168.9 438,170.5C441.2,172.1 443.4,173.8 444.5,174.5" fill="none" stroke="#fff" stroke-width="11.7" stroke-linecap="round"/><path d="M388,160C390.8,160.2 398.8,160.2 405,161C411.2,161.8 419.5,163.4 425,165C430.5,166.6 434.8,168.9 438,170.5C441.2,172.1 443.4,173.8 444.5,174.5" fill="none" stroke="#000" stroke-width="12.3" stroke-dasharray="2.7 5.3" stroke-dashoffset="-3"/>
<path d="M996,194C999.7,192.8 1010.7,189 1018,187C1025.3,185 1033,182.2 1040,182C1047,181.8 1054.7,184.2 1060,185.5C1065.3,186.8 1070,189.2 1072,190" fill="none" stroke="#000" stroke-width="21.5" stroke-linecap="round"/><path d="M996,194C999.7,192.8 1010.7,189 1018,187C1025.3,185 1033,182.2 1040,182C1047,181.8 1054.7,184.2 1060,185.5C1065.3,186.8 1070,189.2 1072,190" fill="none" stroke="#fff" stroke-width="11.7" stroke-linecap="round"/><path d="M996,194C999.7,192.8 1010.7,189 1018,187C1025.3,185 1033,182.2 1040,182C1047,181.8 1054.7,184.2 1060,185.5C1065.3,186.8 1070,189.2 1072,190" fill="none" stroke="#000" stroke-width="12.3" stroke-dasharray="2.7 5.3" stroke-dashoffset="-3"/>
<path d="M1313,473C1312.8,475.8 1312.2,483.8 1311.5,490C1310.8,496.2 1310.2,503.7 1309,510C1307.8,516.3 1304.8,525 1304,528" fill="none" stroke="#000" stroke-width="19.5" stroke-linecap="round"/><path d="M1313,473C1312.8,475.8 1312.2,483.8 1311.5,490C1310.8,496.2 1310.2,503.7 1309,510C1307.8,516.3 1304.8,525 1304,528" fill="none" stroke="#fff" stroke-width="10.1" stroke-linecap="round"/><path d="M1313,473C1312.8,475.8 1312.2,483.8 1311.5,490C1310.8,496.2 1310.2,503.7 1309,510C1307.8,516.3 1304.8,525 1304,528" fill="none" stroke="#000" stroke-width="10.7" stroke-dasharray="2.7 5.3" stroke-dashoffset="-3"/>
<path d="M75.8,612C75.8,615 75.1,623.7 75.5,630C75.9,636.3 76.2,643 78,650C79.8,657 84.7,668.3 86,672" fill="none" stroke="#000" stroke-width="20" stroke-linecap="round"/><path d="M75.8,612C75.8,615 75.1,623.7 75.5,630C75.9,636.3 76.2,643 78,650C79.8,657 84.7,668.3 86,672" fill="none" stroke="#fff" stroke-width="10.6" stroke-linecap="round"/><path d="M75.8,612C75.8,615 75.1,623.7 75.5,630C75.9,636.3 76.2,643 78,650C79.8,657 84.7,668.3 86,672" fill="none" stroke="#000" stroke-width="11.2" stroke-dasharray="2.7 5.3" stroke-dashoffset="-3"/>
<g transform="translate(841.4 974.1) rotate(0)"><ellipse rx="18.4" ry="25.4" fill="#fff" stroke="#000" stroke-width="6.1"/></g><path d="M836.1,957.8 A12.9,17.8 0 0 1 853,966.3" fill="none" stroke="#000" stroke-width="2.9" stroke-linecap="round"/><path d="M839.7,961.3 A8.5,11.7 0 0 1 848.6,965.8" fill="none" stroke="#000" stroke-width="2.6" stroke-linecap="round"/>
<g transform="translate(886.7 970) rotate(8)"><ellipse rx="20.4" ry="25.4" fill="#fff" stroke="#000" stroke-width="6.1"/></g><path d="M881.3,954 A14.3,17.8 8 0 1 899.8,961.8" fill="none" stroke="#000" stroke-width="2.9" stroke-linecap="round"/><path d="M885.2,957.3 A9.4,11.7 8 0 1 895,961.4" fill="none" stroke="#000" stroke-width="2.6" stroke-linecap="round"/>
<g transform="translate(914.3 1004.8) rotate(60)"><ellipse rx="23.4" ry="24.9" fill="#fff" stroke="#000" stroke-width="6.1"/></g><path d="M915.1,988.1 A16.4,17.5 60 0 1 931.5,1004.1" fill="none" stroke="#000" stroke-width="2.9" stroke-linecap="round"/><path d="M917.8,992.9 A10.8,11.5 60 0 1 926.5,1001.4" fill="none" stroke="#000" stroke-width="2.6" stroke-linecap="round"/>
<path d="M924,1022.5C924,1024.8 925.3,1031.8 924,1036C922.7,1040.2 920.3,1044.5 916,1048C911.7,1051.5 901,1055.5 898,1057" fill="none" stroke="#000" stroke-width="15.5" stroke-linecap="round"/><path d="M924,1022.5C924,1024.8 925.3,1031.8 924,1036C922.7,1040.2 920.3,1044.5 916,1048C911.7,1051.5 901,1055.5 898,1057" fill="none" stroke="#fff" stroke-width="7.5" stroke-linecap="round"/><path d="M924,1022.5C924,1024.8 925.3,1031.8 924,1036C922.7,1040.2 920.3,1044.5 916,1048C911.7,1051.5 901,1055.5 898,1057" fill="none" stroke="#000" stroke-width="8.1" stroke-dasharray="2.7 4.5" stroke-dashoffset="-3"/>
<path d="M727.5,914C729.2,916.2 734.2,922.5 738,927C741.8,931.5 748,938.7 750,941" fill="none" stroke="#000" stroke-width="17" stroke-linecap="round"/><path d="M727.5,914C729.2,916.2 734.2,922.5 738,927C741.8,931.5 748,938.7 750,941" fill="none" stroke="#fff" stroke-width="8.6" stroke-linecap="round"/><path d="M727.5,914C729.2,916.2 734.2,922.5 738,927C741.8,931.5 748,938.7 750,941" fill="none" stroke="#000" stroke-width="9.2" stroke-dasharray="2.7 4.7" stroke-dashoffset="-3"/>
<g transform="translate(356.6 167.1) rotate(0)"><ellipse rx="31.4" ry="30.4" fill="#fff" stroke="#000" stroke-width="6.1"/></g><path d="M371,151 A22,21.3 0 0 1 373.7,180.5" fill="none" stroke="#000" stroke-width="2.9" stroke-linecap="round"/><path d="M369.7,158.1 A14.5,14 0 0 1 371.1,173.7" fill="none" stroke="#000" stroke-width="2.6" stroke-linecap="round"/>
<g transform="translate(967.2 195.8) rotate(0)"><ellipse rx="28.4" ry="30.9" fill="#fff" stroke="#000" stroke-width="6.1"/></g><path d="M965.8,174.2 A19.9,21.7 0 0 1 987,193.5" fill="none" stroke="#000" stroke-width="2.9" stroke-linecap="round"/><path d="M969.7,180.2 A13.1,14.2 0 0 1 980.9,190.5" fill="none" stroke="#000" stroke-width="2.6" stroke-linecap="round"/>
<g transform="translate(1291.5 560.5) rotate(0)"><ellipse rx="32.5" ry="30.9" fill="#fff" stroke="#000" stroke-width="6.1"/></g><path d="M1306.4,544.1 A22.7,21.7 0 0 1 1309.2,574.1" fill="none" stroke="#000" stroke-width="2.9" stroke-linecap="round"/><path d="M1305,551.4 A14.9,14.2 0 0 1 1306.5,567.2" fill="none" stroke="#000" stroke-width="2.6" stroke-linecap="round"/>
<g transform="translate(107.3 705.3) rotate(0)"><ellipse rx="34" ry="33.5" fill="#fff" stroke="#000" stroke-width="6.1"/></g><path d="M105.6,681.9 A23.8,23.4 0 0 1 130.9,702.9" fill="none" stroke="#000" stroke-width="2.9" stroke-linecap="round"/><path d="M110.2,688.5 A15.6,15.4 0 0 1 123.6,699.5" fill="none" stroke="#000" stroke-width="2.6" stroke-linecap="round"/>
<g transform="translate(771.8 964.5) rotate(0)"><ellipse rx="28.4" ry="29.2" fill="#fff" stroke="#000" stroke-width="6.1"/></g><path d="M768.7,944.3 A19.9,20.4 0 0 1 791.3,960.6" fill="none" stroke="#000" stroke-width="2.9" stroke-linecap="round"/><path d="M773,949.6 A13.1,13.4 0 0 1 785,958.3" fill="none" stroke="#000" stroke-width="2.6" stroke-linecap="round"/>
<g transform="translate(878.7 1079.7) rotate(0)"><ellipse rx="29.2" ry="29.4" fill="#fff" stroke="#000" stroke-width="6.1"/></g><path d="M897.4,1071.3 A20.4,20.6 0 0 1 887.7,1098.2" fill="none" stroke="#000" stroke-width="2.9" stroke-linecap="round"/><path d="M893.4,1077 A13.4,13.5 0 0 1 888.2,1091.3" fill="none" stroke="#000" stroke-width="2.6" stroke-linecap="round"/>
<g clip-path="url(#cc1)"><path d="M343,176C339.5,177.7 329.5,183.2 322,186C314.5,188.8 305.7,190.3 298,193C290.3,195.7 282,198.5 276,202C270,205.5 264.3,212 262,214" fill="none" stroke="#000" stroke-width="20" stroke-linecap="round"/><path d="M343,176C339.5,177.7 329.5,183.2 322,186C314.5,188.8 305.7,190.3 298,193C290.3,195.7 282,198.5 276,202C270,205.5 264.3,212 262,214" fill="none" stroke="#fff" stroke-width="10.6" stroke-linecap="round"/><path d="M343,176C339.5,177.7 329.5,183.2 322,186C314.5,188.8 305.7,190.3 298,193C290.3,195.7 282,198.5 276,202C270,205.5 264.3,212 262,214" fill="none" stroke="#000" stroke-width="11.2" stroke-dasharray="2.7 5.3" stroke-dashoffset="-3"/></g>
<g clip-path="url(#cc2)"><path d="M1280.3,574C1279.8,577 1278.2,585.2 1277,592C1275.8,598.8 1275.5,607.7 1273,615C1270.5,622.3 1267.5,630.7 1262,636C1256.5,641.3 1243.7,645.2 1240,647" fill="none" stroke="#000" stroke-width="16.5" stroke-linecap="round"/><path d="M1280.3,574C1279.8,577 1278.2,585.2 1277,592C1275.8,598.8 1275.5,607.7 1273,615C1270.5,622.3 1267.5,630.7 1262,636C1256.5,641.3 1243.7,645.2 1240,647" fill="none" stroke="#fff" stroke-width="8.1" stroke-linecap="round"/><path d="M1280.3,574C1279.8,577 1278.2,585.2 1277,592C1275.8,598.8 1275.5,607.7 1273,615C1270.5,622.3 1267.5,630.7 1262,636C1256.5,641.3 1243.7,645.2 1240,647" fill="none" stroke="#000" stroke-width="8.7" stroke-dasharray="2.7 4.7" stroke-dashoffset="-3"/></g>
<g clip-path="url(#cc3)"><path d="M124,719C125.1,721.9 127.9,730.5 130.5,736.2C133.1,741.9 136.2,748.1 139.6,753.2C143,758.3 146.8,762.7 150.9,766.7C155.1,770.8 160.3,774.1 164.5,777.5C168.7,780.9 174.1,785.4 176,787" fill="none" stroke="#000" stroke-width="18" stroke-linecap="round"/><path d="M124,719C125.1,721.9 127.9,730.5 130.5,736.2C133.1,741.9 136.2,748.1 139.6,753.2C143,758.3 146.8,762.7 150.9,766.7C155.1,770.8 160.3,774.1 164.5,777.5C168.7,780.9 174.1,785.4 176,787" fill="none" stroke="#fff" stroke-width="9.4" stroke-linecap="round"/><path d="M124,719C125.1,721.9 127.9,730.5 130.5,736.2C133.1,741.9 136.2,748.1 139.6,753.2C143,758.3 146.8,762.7 150.9,766.7C155.1,770.8 160.3,774.1 164.5,777.5C168.7,780.9 174.1,785.4 176,787" fill="none" stroke="#000" stroke-width="10" stroke-dasharray="2.7 5.3" stroke-dashoffset="-3"/></g>
<path d="M862.6,1098C862.2,1100.3 860.3,1107.3 860.5,1112C860.7,1116.7 861.9,1121.7 864,1126C866.1,1130.3 871.5,1136 873,1138" fill="none" stroke="#000" stroke-width="17" stroke-linecap="round"/><path d="M862.6,1098C862.2,1100.3 860.3,1107.3 860.5,1112C860.7,1116.7 861.9,1121.7 864,1126C866.1,1130.3 871.5,1136 873,1138" fill="none" stroke="#fff" stroke-width="8.6" stroke-linecap="round"/><path d="M862.6,1098C862.2,1100.3 860.3,1107.3 860.5,1112C860.7,1116.7 861.9,1121.7 864,1126C866.1,1130.3 871.5,1136 873,1138" fill="none" stroke="#000" stroke-width="9.2" stroke-dasharray="2.7 4.7" stroke-dashoffset="-3"/>
<path d="M630.6,848.2C630.8,852.3 628.5,864.9 631.6,873C634.7,881.1 642.5,890.4 649.4,896.7C656.3,903 664.6,906.5 673.2,910.6C681.8,914.7 692.3,918.9 700.9,921.5C709.5,924.1 717.4,925.8 724.7,926.4C732,927 738.9,927 744.5,925.4C750.1,923.8 754.3,920.6 758.3,916.5C762.2,912.4 765.6,906.5 768.2,900.7C770.8,895 772.5,889.5 774,882C775.5,874.5 776.9,860.3 777.5,856L700,850Z" fill="#fff" stroke="#000" stroke-width="5" stroke-linejoin="round"/><path d="M641,862L639.5,874M647.1,866.5L645.6,878.8M653.2,870.9L651.7,883.5M659.3,875.3L657.8,888.1M665.4,879.5L663.9,892.7M671.5,883.7L670,897.1M677.6,887.7L676.1,901.4M683.7,891.5L682.2,905.5M689.8,895L688.3,909.3M695.9,898.4L694.4,912.9M702,901.4L700.5,916.3M708,904.2L706.5,919M714.1,906.6L712.6,921.2M720.2,908.8L718.7,923.1M726.3,910.5L724.8,924.5M732.4,912L730.9,925.7M738.5,913L737,926.4M744.6,913L743.1,926.2M750.7,910L749.2,922.8M756.8,906.7L755.3,919.2M762.9,903.3L761.4,915.6M769,900L767.5,912" stroke="#000" stroke-width="2" fill="none" clip-path="url(#cm)"/><path d="M630.6,848.2C630.3,841.1 640.3,827.1 647.4,819.5C654.5,811.9 663,806.8 673.2,802.7C683.4,798.6 698.2,796.2 708.8,794.8C719.3,793.4 728.2,793.4 736.5,794.2C744.8,795 752.3,796.8 758.3,799.7C764.2,802.6 768.9,806.7 772.2,811.6C775.5,816.5 777.3,822.1 778.1,829.4C778.9,836.6 778.4,846.5 777.1,855.1C775.8,863.7 773,874.3 770.2,880.9C767.4,887.5 764.6,891.3 760.3,894.8C756,898.3 750.4,900.7 744.5,901.7C738.6,902.7 732,902.2 724.7,900.7C717.4,899.2 709.5,896.6 700.9,892.8C692.3,889 681.8,883 673.2,877.9C664.6,872.8 656.5,867 649.4,862.1C642.3,857.2 630.9,855.3 630.6,848.2Z" fill="#fff" stroke="#000" stroke-width="5" stroke-linejoin="round"/><path d="M646.4,831.4L642.5,846.2M659.3,819.5L649.4,853.2M675.1,810.6L659.3,862.1M689,807.6L669.2,867M703.9,806.6L679.1,871M718.7,803.7L691,877.9M731.6,800.7L703.9,888.8M746.4,805.6L714.8,893.8M758.3,817.5L729.6,890.8M767.2,835.3L746.4,886.8M769.2,857.1L758.3,882.9M765.2,859.1L762.3,871" stroke="#000" stroke-width="2.3" fill="none" stroke-linecap="round" clip-path="url(#ct)"/>
<path d="M622,891C624.2,890.5 631,889.1 635,888C639,886.9 644.2,885.1 646,884.5" fill="none" stroke="#000" stroke-width="17" stroke-linecap="round"/><path d="M622,891C624.2,890.5 631,889.1 635,888C639,886.9 644.2,885.1 646,884.5" fill="none" stroke="#fff" stroke-width="8.4" stroke-linecap="round"/><path d="M622,891C624.2,890.5 631,889.1 635,888C639,886.9 644.2,885.1 646,884.5" fill="none" stroke="#000" stroke-width="9" stroke-dasharray="2.7 5.3" stroke-dashoffset="-3"/>
<g transform="translate(604.7 885) rotate(-1.1)"><ellipse rx="22.9" ry="27.4" fill="#fff" stroke="#000" stroke-width="6.1"/></g><path d="M616.2,871.7 A16.1,19.2 -1.1 0 1 616.3,898.4" fill="none" stroke="#000" stroke-width="2.9" stroke-linecap="round"/><path d="M614.8,878 A10.6,12.6 -1.1 0 1 614.9,892.1" fill="none" stroke="#000" stroke-width="2.6" stroke-linecap="round"/>
<g clip-path="url(#cc4)"><path d="M727.5,914C729.2,916.2 734.2,922.5 738,927C741.8,931.5 748,938.7 750,941" fill="none" stroke="#000" stroke-width="17" stroke-linecap="round"/><path d="M727.5,914C729.2,916.2 734.2,922.5 738,927C741.8,931.5 748,938.7 750,941" fill="none" stroke="#fff" stroke-width="8.6" stroke-linecap="round"/><path d="M727.5,914C729.2,916.2 734.2,922.5 738,927C741.8,931.5 748,938.7 750,941" fill="none" stroke="#000" stroke-width="9.2" stroke-dasharray="2.7 4.7" stroke-dashoffset="-3"/></g>
<path d="M799.2,1237.1L801.5,1295.9C804.7,1295.2 814.1,1289.9 820.7,1291.4C827.3,1292.9 837.7,1302.7 841.1,1305C843.9,1302.2 852.3,1293.3 858,1288C863.7,1282.7 867.7,1276.8 875.1,1273.3C882.5,1269.8 893.2,1268.5 902.2,1267C911.2,1265.5 924.5,1264.9 928.9,1264.5C932.6,1267.3 944.4,1275.3 950.9,1281.5C957.4,1287.7 962.2,1294.6 967.9,1301.8C973.6,1309 980.4,1318.1 984.9,1324.5C989.4,1330.9 989.7,1330.3 995,1340C1000.3,1349.7 1010.7,1370.7 1016.6,1382.8C1022.5,1394.9 1027.2,1405.6 1030.5,1412.5C1033.8,1419.4 1035.4,1422.4 1036.4,1424.4L1094.9,1428.3C1095.9,1426.3 1098.8,1424.7 1100.8,1416.4C1102.8,1408.2 1106,1388.7 1106.7,1378.8C1107.4,1368.9 1105.1,1360.6 1104.8,1357L1038.4,1394.7L927.1,1230.3Z" fill="#fff"/><path d="M799.2,1237.1L801.5,1295.9C804.7,1295.2 814.1,1289.9 820.7,1291.4C827.3,1292.9 837.7,1302.7 841.1,1305C843.9,1302.2 852.3,1293.3 858,1288C863.7,1282.7 867.7,1276.8 875.1,1273.3C882.5,1269.8 893.2,1268.5 902.2,1267C911.2,1265.5 924.5,1264.9 928.9,1264.5C932.6,1267.3 944.4,1275.3 950.9,1281.5C957.4,1287.7 962.2,1294.6 967.9,1301.8C973.6,1309 980.4,1318.1 984.9,1324.5C989.4,1330.9 989.7,1330.3 995,1340C1000.3,1349.7 1010.7,1370.7 1016.6,1382.8C1022.5,1394.9 1027.2,1405.6 1030.5,1412.5C1033.8,1419.4 1035.4,1422.4 1036.4,1424.4L1094.9,1428.3C1095.9,1426.3 1098.8,1424.7 1100.8,1416.4C1102.8,1408.2 1106,1388.7 1106.7,1378.8C1107.4,1368.9 1105.1,1360.6 1104.8,1357" fill="none" stroke="#000" stroke-width="5" stroke-linejoin="round"/><path d="M862.6,1160.2L867.2,1190.7C869.3,1191.3 876,1192 879.6,1194.1C883.2,1196.2 886.5,1200.8 888.7,1203.2C890.9,1205.6 892.3,1207.6 893,1208.5L909.6,1193.5C907.4,1191.2 901.6,1183.6 896.6,1179.4C891.6,1175.2 885.3,1171.3 879.6,1168.1C873.9,1164.9 865.4,1161.5 862.6,1160.2Z" fill="#fff" stroke="#000" stroke-width="5" stroke-linejoin="round"/><path d="M1070.8,1127.3C1071.6,1131.1 1075,1143 1075.8,1150C1076.5,1157 1076.7,1161.7 1075.3,1169.2C1073.9,1176.7 1068.7,1190.9 1067.4,1195.2C1061,1196.2 1040.6,1197.3 1028.9,1200.9C1017.2,1204.5 1004.5,1211.4 997.2,1216.7C989.9,1222 987,1230.3 985,1233L969.6,1206C972,1203.3 975.7,1195 983.7,1189.6C991.7,1184.2 1004.4,1178 1017.6,1173.7C1030.8,1169.4 1055.4,1165.3 1062.9,1163.6Z" fill="#fff" stroke="#000" stroke-width="5" stroke-linejoin="round"/><path d="M868.6,1172.5L870.9,1184.3M876,1175.6L878.3,1187.3M882.7,1179.9L885,1191.6M888.7,1185.2L891,1196.9M894.5,1190.7L896.9,1202.4M808.4,1273.3L808.4,1287.3M815.3,1272.2L815.3,1286.2M822.3,1272.9L822.3,1286.9M828.5,1276L828.5,1290M834.4,1279.7L834.4,1293.7M847.4,1277.9L848.2,1290.9M853,1272.7L853.7,1285.7M858.6,1267.7L859.4,1280.7M864.2,1262.5L865,1275.5M870.3,1257.9L871,1270.9M876.9,1254.2L877.7,1267.2M883.7,1251L884.5,1263.9M890.7,1248L891.5,1260.9M897.8,1245.3L898.6,1258.2M905.1,1243.1L905.9,1256.1M912.6,1241.8L913.4,1254.7M920.1,1241L920.9,1253.9M941.7,1248.3L941.1,1263.3M950.4,1255.9L949.8,1270.9M958.6,1263.9L958,1278.9M966.2,1272.6L965.6,1287.6M973.2,1281.7L972.6,1296.7M979.9,1291L979.3,1306M986.5,1300.4L985.9,1315.4M992.8,1310.1L992.2,1325M999,1319.7L998.4,1334.7M1004.7,1329.7L1004.1,1344.7M1009.7,1340.1L1009.1,1355M1014.6,1350.5L1014,1365.5M1019.3,1361L1018.7,1375.9M1024.1,1371.4L1023.5,1386.4M1028.7,1382L1028.1,1396.9M1033.2,1392.6L1032.6,1407.5M1045.5,1402.7L1045.5,1417.7M1052.5,1403L1052.5,1418M1059.5,1403.4L1059.5,1418.4M1066.5,1403.7L1066.5,1418.7M1073.5,1404.1L1073.5,1419.1M1080.5,1404.4L1080.5,1419.4M1087.4,1404.8L1087.4,1419.8M1059.3,1174.2L1057.3,1187.1M1051.9,1175.3L1049.9,1188.2M1044.4,1176.5L1042.5,1189.4M1037.1,1177.9L1035.1,1190.7M1029.7,1179.5L1027.8,1192.3M1022.5,1181.5L1020.6,1194.4M1015.5,1184.2L1013.6,1197M1008.6,1187.2L1006.7,1200M1001.9,1190.5L1000,1203.3M995.4,1194.1L993.4,1207M989.2,1198.3L987.2,1211.2M984.1,1203.9L982.2,1216.7M980.2,1210.3L978.3,1223.1" stroke="#000" stroke-width="2" fill="none" stroke-linecap="round"/><path d="M877.3,1123.9L918,1126.2C919,1129.2 921.4,1138.3 923.7,1144.3C926,1150.3 928.5,1157.3 931.7,1162.4C934.9,1167.5 941,1172.8 942.9,1174.9C946.5,1174 957,1172 964.4,1169.2C971.8,1166.4 978.2,1163.2 987.1,1157.9C996,1152.6 1008.4,1144.8 1017.6,1137.5C1026.8,1130.2 1038.3,1118.2 1042.5,1114.4L1070.8,1127.3L1062.9,1163.6C1055.4,1165.3 1028.1,1170.9 1017.6,1173.7C1007.1,1176.5 1006,1177.5 1000,1180.5C994,1183.5 986.5,1187.5 981.4,1191.8C976.3,1196 971.6,1203.6 969.6,1206C970.5,1208.4 972.2,1215.2 974.7,1220.4C977.2,1225.6 980.4,1230.5 984.9,1237.3C989.4,1244.1 995.2,1252.4 1001.8,1261.1C1008.4,1269.8 1017,1280.9 1024.5,1289.4C1032,1297.9 1038.2,1304 1047.1,1312C1056,1320 1068.4,1329.7 1078,1337.2C1087.6,1344.7 1100.3,1353.7 1104.8,1357L1092.9,1397.6L1038.4,1394.7C1037.4,1392 1036.2,1387.9 1032.5,1378.8C1028.8,1369.7 1020.7,1349.4 1016.5,1340C1012.3,1330.6 1011.8,1329.9 1007.5,1322.2C1003.2,1314.5 997.1,1303.7 990.5,1293.9C983.9,1284.1 975.4,1272.5 967.9,1263.4C960.4,1254.4 952.1,1245.1 945.3,1239.6C938.5,1234.1 930.1,1231.8 927.1,1230.3C923,1231.4 911.6,1233.3 902.2,1237.1C892.8,1240.9 880.7,1246.1 870.5,1252.9C860.3,1259.7 846,1273.7 841.1,1277.8L803.8,1265.4L799.2,1237.1C803.6,1236.1 817.2,1233.1 825.3,1231.4C833.4,1229.7 839.9,1229.5 848,1227C856.1,1224.5 866.9,1219.7 873.9,1216.7C880.9,1213.7 885.3,1211.2 889.8,1208.8C894.3,1206.3 897.8,1204.5 901.1,1202C904.4,1199.5 908.2,1194.9 909.6,1193.5C907.4,1191.2 901.6,1183.6 896.6,1179.4C891.6,1175.2 885.3,1171.3 879.6,1168.1C873.9,1164.9 865.4,1161.5 862.6,1160.2Z" fill="#fff" stroke="#000" stroke-width="5.7" stroke-linejoin="round"/><path d="M841.1,1277.8L841.1,1305M927.1,1230.3L928.9,1264.5M1062.9,1163.6L1067.4,1195.2M1038.4,1394.7L1036.4,1424.4M1092.9,1397.6L1094.9,1428.3" stroke="#000" stroke-width="4.5" fill="none" stroke-linecap="round"/><path d="M783.2,1112l-6.4,25M794.7,1112l-6.4,25M806.2,1112l-6.4,25M817.7,1112l-6.4,25M829.2,1112l-6.4,25M840.7,1112l-6.4,25M852.2,1112l-6.4,25M863.7,1112l-6.4,25M875.2,1112l-6.4,25M886.7,1112l-6.4,25M898.2,1112l-6.4,25M909.7,1112l-6.4,25M921.2,1112l-6.4,25M932.7,1112l-6.4,25M944.2,1112l-6.4,25M955.7,1112l-6.4,25M967.2,1112l-6.4,25M978.7,1112l-6.4,25M990.2,1112l-6.4,25M1001.7,1112l-6.4,25M1013.2,1112l-6.4,25M1024.7,1112l-6.4,25M1036.2,1112l-6.4,25M1047.7,1112l-6.4,25M1059.2,1112l-6.4,25M1070.7,1112l-6.4,25M1082.2,1112l-6.4,25M1093.7,1112l-6.4,25M1105.2,1112l-6.4,25M1116.7,1112l-6.4,25M789,1145l-6.4,25M800.5,1145l-6.4,25M812,1145l-6.4,25M823.5,1145l-6.4,25M835,1145l-6.4,25M846.5,1145l-6.4,25M858,1145l-6.4,25M869.5,1145l-6.4,25M881,1145l-6.4,25M892.5,1145l-6.4,25M904,1145l-6.4,25M915.5,1145l-6.4,25M927,1145l-6.4,25M938.5,1145l-6.4,25M950,1145l-6.4,25M961.5,1145l-6.4,25M973,1145l-6.4,25M984.5,1145l-6.4,25M996,1145l-6.4,25M1007.5,1145l-6.4,25M1019,1145l-6.4,25M1030.5,1145l-6.4,25M1042,1145l-6.4,25M1053.5,1145l-6.4,25M1065,1145l-6.4,25M1076.5,1145l-6.4,25M1088,1145l-6.4,25M1099.5,1145l-6.4,25M1111,1145l-6.4,25M1122.5,1145l-6.4,25M783.2,1178l-6.4,25M794.7,1178l-6.4,25M806.2,1178l-6.4,25M817.7,1178l-6.4,25M829.2,1178l-6.4,25M840.7,1178l-6.4,25M852.2,1178l-6.4,25M863.7,1178l-6.4,25M875.2,1178l-6.4,25M886.7,1178l-6.4,25M898.2,1178l-6.4,25M909.7,1178l-6.4,25M921.2,1178l-6.4,25M932.7,1178l-6.4,25M944.2,1178l-6.4,25M955.7,1178l-6.4,25M967.2,1178l-6.4,25M978.7,1178l-6.4,25M990.2,1178l-6.4,25M1001.7,1178l-6.4,25M1013.2,1178l-6.4,25M1024.7,1178l-6.4,25M1036.2,1178l-6.4,25M1047.7,1178l-6.4,25M1059.2,1178l-6.4,25M1070.7,1178l-6.4,25M1082.2,1178l-6.4,25M1093.7,1178l-6.4,25M1105.2,1178l-6.4,25M1116.7,1178l-6.4,25M789,1211l-6.4,25M800.5,1211l-6.4,25M812,1211l-6.4,25M823.5,1211l-6.4,25M835,1211l-6.4,25M846.5,1211l-6.4,25M858,1211l-6.4,25M869.5,1211l-6.4,25M881,1211l-6.4,25M892.5,1211l-6.4,25M904,1211l-6.4,25M915.5,1211l-6.4,25M927,1211l-6.4,25M938.5,1211l-6.4,25M950,1211l-6.4,25M961.5,1211l-6.4,25M973,1211l-6.4,25M984.5,1211l-6.4,25M996,1211l-6.4,25M1007.5,1211l-6.4,25M1019,1211l-6.4,25M1030.5,1211l-6.4,25M1042,1211l-6.4,25M1053.5,1211l-6.4,25M1065,1211l-6.4,25M1076.5,1211l-6.4,25M1088,1211l-6.4,25M1099.5,1211l-6.4,25M1111,1211l-6.4,25M1122.5,1211l-6.4,25M783.2,1244l-6.4,25M794.7,1244l-6.4,25M806.2,1244l-6.4,25M817.7,1244l-6.4,25M829.2,1244l-6.4,25M840.7,1244l-6.4,25M852.2,1244l-6.4,25M863.7,1244l-6.4,25M875.2,1244l-6.4,25M886.7,1244l-6.4,25M898.2,1244l-6.4,25M909.7,1244l-6.4,25M921.2,1244l-6.4,25M932.7,1244l-6.4,25M944.2,1244l-6.4,25M955.7,1244l-6.4,25M967.2,1244l-6.4,25M978.7,1244l-6.4,25M990.2,1244l-6.4,25M1001.7,1244l-6.4,25M1013.2,1244l-6.4,25M1024.7,1244l-6.4,25M1036.2,1244l-6.4,25M1047.7,1244l-6.4,25M1059.2,1244l-6.4,25M1070.7,1244l-6.4,25M1082.2,1244l-6.4,25M1093.7,1244l-6.4,25M1105.2,1244l-6.4,25M1116.7,1244l-6.4,25M789,1277l-6.4,25M800.5,1277l-6.4,25M812,1277l-6.4,25M823.5,1277l-6.4,25M835,1277l-6.4,25M846.5,1277l-6.4,25M858,1277l-6.4,25M869.5,1277l-6.4,25M881,1277l-6.4,25M892.5,1277l-6.4,25M904,1277l-6.4,25M915.5,1277l-6.4,25M927,1277l-6.4,25M938.5,1277l-6.4,25M950,1277l-6.4,25M961.5,1277l-6.4,25M973,1277l-6.4,25M984.5,1277l-6.4,25M996,1277l-6.4,25M1007.5,1277l-6.4,25M1019,1277l-6.4,25M1030.5,1277l-6.4,25M1042,1277l-6.4,25M1053.5,1277l-6.4,25M1065,1277l-6.4,25M1076.5,1277l-6.4,25M1088,1277l-6.4,25M1099.5,1277l-6.4,25M1111,1277l-6.4,25M1122.5,1277l-6.4,25M783.2,1310l-6.4,25M794.7,1310l-6.4,25M806.2,1310l-6.4,25M817.7,1310l-6.4,25M829.2,1310l-6.4,25M840.7,1310l-6.4,25M852.2,1310l-6.4,25M863.7,1310l-6.4,25M875.2,1310l-6.4,25M886.7,1310l-6.4,25M898.2,1310l-6.4,25M909.7,1310l-6.4,25M921.2,1310l-6.4,25M932.7,1310l-6.4,25M944.2,1310l-6.4,25M955.7,1310l-6.4,25M967.2,1310l-6.4,25M978.7,1310l-6.4,25M990.2,1310l-6.4,25M1001.7,1310l-6.4,25M1013.2,1310l-6.4,25M1024.7,1310l-6.4,25M1036.2,1310l-6.4,25M1047.7,1310l-6.4,25M1059.2,1310l-6.4,25M1070.7,1310l-6.4,25M1082.2,1310l-6.4,25M1093.7,1310l-6.4,25M1105.2,1310l-6.4,25M1116.7,1310l-6.4,25M789,1343l-6.4,25M800.5,1343l-6.4,25M812,1343l-6.4,25M823.5,1343l-6.4,25M835,1343l-6.4,25M846.5,1343l-6.4,25M858,1343l-6.4,25M869.5,1343l-6.4,25M881,1343l-6.4,25M892.5,1343l-6.4,25M904,1343l-6.4,25M915.5,1343l-6.4,25M927,1343l-6.4,25M938.5,1343l-6.4,25M950,1343l-6.4,25M961.5,1343l-6.4,25M973,1343l-6.4,25M984.5,1343l-6.4,25M996,1343l-6.4,25M1007.5,1343l-6.4,25M1019,1343l-6.4,25M1030.5,1343l-6.4,25M1042,1343l-6.4,25M1053.5,1343l-6.4,25M1065,1343l-6.4,25M1076.5,1343l-6.4,25M1088,1343l-6.4,25M1099.5,1343l-6.4,25M1111,1343l-6.4,25M1122.5,1343l-6.4,25M783.2,1376l-6.4,25M794.7,1376l-6.4,25M806.2,1376l-6.4,25M817.7,1376l-6.4,25M829.2,1376l-6.4,25M840.7,1376l-6.4,25M852.2,1376l-6.4,25M863.7,1376l-6.4,25M875.2,1376l-6.4,25M886.7,1376l-6.4,25M898.2,1376l-6.4,25M909.7,1376l-6.4,25M921.2,1376l-6.4,25M932.7,1376l-6.4,25M944.2,1376l-6.4,25M955.7,1376l-6.4,25M967.2,1376l-6.4,25M978.7,1376l-6.4,25M990.2,1376l-6.4,25M1001.7,1376l-6.4,25M1013.2,1376l-6.4,25M1024.7,1376l-6.4,25M1036.2,1376l-6.4,25M1047.7,1376l-6.4,25M1059.2,1376l-6.4,25M1070.7,1376l-6.4,25M1082.2,1376l-6.4,25M1093.7,1376l-6.4,25M1105.2,1376l-6.4,25M1116.7,1376l-6.4,25M789,1409l-6.4,25M800.5,1409l-6.4,25M812,1409l-6.4,25M823.5,1409l-6.4,25M835,1409l-6.4,25M846.5,1409l-6.4,25M858,1409l-6.4,25M869.5,1409l-6.4,25M881,1409l-6.4,25M892.5,1409l-6.4,25M904,1409l-6.4,25M915.5,1409l-6.4,25M927,1409l-6.4,25M938.5,1409l-6.4,25M950,1409l-6.4,25M961.5,1409l-6.4,25M973,1409l-6.4,25M984.5,1409l-6.4,25M996,1409l-6.4,25M1007.5,1409l-6.4,25M1019,1409l-6.4,25M1030.5,1409l-6.4,25M1042,1409l-6.4,25M1053.5,1409l-6.4,25M1065,1409l-6.4,25M1076.5,1409l-6.4,25M1088,1409l-6.4,25M1099.5,1409l-6.4,25M1111,1409l-6.4,25M1122.5,1409l-6.4,25" stroke="#000" stroke-width="2.2" fill="none" stroke-linecap="round" clip-path="url(#cf)"/><path d="M877.3,1123.9L918,1126.2C919,1129.2 921.4,1138.3 923.7,1144.3C926,1150.3 928.5,1157.3 931.7,1162.4C934.9,1167.5 941,1172.8 942.9,1174.9C946.5,1174 957,1172 964.4,1169.2C971.8,1166.4 978.2,1163.2 987.1,1157.9C996,1152.6 1008.4,1144.8 1017.6,1137.5C1026.8,1130.2 1038.3,1118.2 1042.5,1114.4L1070.8,1127.3L1062.9,1163.6C1055.4,1165.3 1028.1,1170.9 1017.6,1173.7C1007.1,1176.5 1006,1177.5 1000,1180.5C994,1183.5 986.5,1187.5 981.4,1191.8C976.3,1196 971.6,1203.6 969.6,1206C970.5,1208.4 972.2,1215.2 974.7,1220.4C977.2,1225.6 980.4,1230.5 984.9,1237.3C989.4,1244.1 995.2,1252.4 1001.8,1261.1C1008.4,1269.8 1017,1280.9 1024.5,1289.4C1032,1297.9 1038.2,1304 1047.1,1312C1056,1320 1068.4,1329.7 1078,1337.2C1087.6,1344.7 1100.3,1353.7 1104.8,1357L1092.9,1397.6L1038.4,1394.7C1037.4,1392 1036.2,1387.9 1032.5,1378.8C1028.8,1369.7 1020.7,1349.4 1016.5,1340C1012.3,1330.6 1011.8,1329.9 1007.5,1322.2C1003.2,1314.5 997.1,1303.7 990.5,1293.9C983.9,1284.1 975.4,1272.5 967.9,1263.4C960.4,1254.4 952.1,1245.1 945.3,1239.6C938.5,1234.1 930.1,1231.8 927.1,1230.3C923,1231.4 911.6,1233.3 902.2,1237.1C892.8,1240.9 880.7,1246.1 870.5,1252.9C860.3,1259.7 846,1273.7 841.1,1277.8L803.8,1265.4L799.2,1237.1C803.6,1236.1 817.2,1233.1 825.3,1231.4C833.4,1229.7 839.9,1229.5 848,1227C856.1,1224.5 866.9,1219.7 873.9,1216.7C880.9,1213.7 885.3,1211.2 889.8,1208.8C894.3,1206.3 897.8,1204.5 901.1,1202C904.4,1199.5 908.2,1194.9 909.6,1193.5C907.4,1191.2 901.6,1183.6 896.6,1179.4C891.6,1175.2 885.3,1171.3 879.6,1168.1C873.9,1164.9 865.4,1161.5 862.6,1160.2Z" fill="none" stroke="#000" stroke-width="5.7" stroke-linejoin="round"/>
<path d="M862.6,1098C862.2,1100.3 860.3,1107.3 860.5,1112C860.7,1116.7 862.4,1122.3 864,1126C865.6,1129.7 869,1132.7 870,1134" fill="none" stroke="#000" stroke-width="17" stroke-linecap="round"/><path d="M862.6,1098C862.2,1100.3 860.3,1107.3 860.5,1112C860.7,1116.7 862.4,1122.3 864,1126C865.6,1129.7 869,1132.7 870,1134" fill="none" stroke="#fff" stroke-width="8.6" stroke-linecap="round"/><path d="M862.6,1098C862.2,1100.3 860.3,1107.3 860.5,1112C860.7,1116.7 862.4,1122.3 864,1126C865.6,1129.7 869,1132.7 870,1134" fill="none" stroke="#000" stroke-width="9.2" stroke-dasharray="2.7 4.7" stroke-dashoffset="-3"/>
<path d="M940.5,1473.6L1085,1412.4M747.2,1309.9L791.1,1269.7M916,1079L950,1079M852.2,937.8L935.4,920.3M911.4,954.4L933.5,952M938.9,982L950,973.2M622.4,1014.9L728,974.1M818.5,743L791.6,804.6M1227.1,531.8L1250,551.3M1242.3,390.7L1272.7,441.7M958.8,128.6L958.8,156M876.5,140L882.7,167M359,207.5L372.5,281M276,266.5L292.5,380M176.8,601.6L142.1,673.3M207.8,759.6L246,739M652.2,623.5L689,780" stroke="#000" stroke-width="5.8" fill="none"/>
</g>
<g id="labels">
<circle cx="930" cy="74.5" r="35.6" fill="#ff3131"/><text x="923.7" y="89.2" font-family="Liberation Sans, sans-serif" font-weight="bold" font-size="38" fill="#fff" stroke="#fff" stroke-width="0.6" text-anchor="middle">9</text><g fill="#ff914d"><rect x="943.6" y="29.2" width="156.6" height="30.6" rx="4.5"/><rect x="943.6" y="59.3" width="124.8" height="34.6" rx="4.5"/><rect x="943.6" y="89.4" width="245.1" height="30.6" rx="4.5"/><rect x="943.6" y="54.8" width="124.8" height="13.5"/><path d="M1068.4,64.3A4.5,4.5 0 0,1 1072.9,59.8L1068.4,59.8Z"/><rect x="943.6" y="84.9" width="124.8" height="13.5"/><path d="M1068.4,84.9A4.5,4.5 0 0,0 1072.9,89.4L1068.4,89.4Z"/></g><text x="945.2" y="51.4" font-family="Liberation Sans, sans-serif" font-weight="bold" font-size="21" fill="#000" stroke="#000" stroke-width="0.6" stroke-linejoin="round" textLength="153.5" lengthAdjust="spacingAndGlyphs">CHWAŁA OJCU</text><text x="945.2" y="81.5" font-family="Liberation Sans, sans-serif" font-weight="bold" font-size="21" fill="#000" stroke="#000" stroke-width="0.6" stroke-linejoin="round" textLength="121.7" lengthAdjust="spacingAndGlyphs">O MÓJ JEZU</text><text x="945.2" y="111.6" font-family="Liberation Sans, sans-serif" font-weight="bold" font-size="21" fill="#000" stroke="#000" stroke-width="0.6" stroke-linejoin="round" textLength="242" lengthAdjust="spacingAndGlyphs">MÓWIMY 3 TAJEMNICĘ</text>
<circle cx="392.5" cy="325.4" r="35.6" fill="#ff3131"/><path d="M371.9,338.4L377.8,338.4L377.8,313L373,313L363,320.8L365.7,324.3L371.9,319.4Z" fill="#fff"/><path d="M392.3,338.4L398.1,338.4L398.1,313L393.3,313L383.4,320.8L386,324.3L392.3,319.4Z" fill="#fff"/><g fill="#ff914d"><rect x="405.4" y="280.2" width="156.6" height="30.6" rx="4.5"/><rect x="405.4" y="310.3" width="124.8" height="34.6" rx="4.5"/><rect x="405.4" y="340.4" width="245.1" height="30.6" rx="4.5"/><rect x="405.4" y="305.8" width="124.8" height="13.5"/><path d="M530.2,315.3A4.5,4.5 0 0,1 534.7,310.8L530.2,310.8Z"/><rect x="405.4" y="335.9" width="124.8" height="13.5"/><path d="M530.2,335.9A4.5,4.5 0 0,0 534.7,340.4L530.2,340.4Z"/></g><text x="406.9" y="302.4" font-family="Liberation Sans, sans-serif" font-weight="bold" font-size="21" fill="#000" stroke="#000" stroke-width="0.6" stroke-linejoin="round" textLength="153.5" lengthAdjust="spacingAndGlyphs">CHWAŁA OJCU</text><text x="406.9" y="332.5" font-family="Liberation Sans, sans-serif" font-weight="bold" font-size="21" fill="#000" stroke="#000" stroke-width="0.6" stroke-linejoin="round" textLength="121.7" lengthAdjust="spacingAndGlyphs">O MÓJ JEZU</text><text x="406.9" y="362.6" font-family="Liberation Sans, sans-serif" font-weight="bold" font-size="21" fill="#000" stroke="#000" stroke-width="0.6" stroke-linejoin="round" textLength="242" lengthAdjust="spacingAndGlyphs">MÓWIMY 4 TAJEMNICĘ</text>
<circle cx="962.3" cy="496.7" r="35.6" fill="#ff3131"/><text x="952.8" y="511.7" font-family="Liberation Sans, sans-serif" font-weight="bold" font-size="38" fill="#fff" stroke="#fff" stroke-width="0.6" text-anchor="middle">7</text><g fill="#ff914d"><rect x="975.3" y="451" width="156.6" height="30.6" rx="4.5"/><rect x="975.3" y="481.1" width="124.8" height="34.6" rx="4.5"/><rect x="975.3" y="511.2" width="245.1" height="30.6" rx="4.5"/><rect x="975.3" y="476.6" width="124.8" height="13.5"/><path d="M1100.1,486.1A4.5,4.5 0 0,1 1104.6,481.6L1100.1,481.6Z"/><rect x="975.3" y="506.7" width="124.8" height="13.5"/><path d="M1100.1,506.7A4.5,4.5 0 0,0 1104.6,511.2L1100.1,511.2Z"/></g><text x="976.9" y="473.2" font-family="Liberation Sans, sans-serif" font-weight="bold" font-size="21" fill="#000" stroke="#000" stroke-width="0.6" stroke-linejoin="round" textLength="153.5" lengthAdjust="spacingAndGlyphs">CHWAŁA OJCU</text><text x="976.9" y="503.3" font-family="Liberation Sans, sans-serif" font-weight="bold" font-size="21" fill="#000" stroke="#000" stroke-width="0.6" stroke-linejoin="round" textLength="121.7" lengthAdjust="spacingAndGlyphs">O MÓJ JEZU</text><text x="976.9" y="533.4" font-family="Liberation Sans, sans-serif" font-weight="bold" font-size="21" fill="#000" stroke="#000" stroke-width="0.6" stroke-linejoin="round" textLength="242" lengthAdjust="spacingAndGlyphs">MÓWIMY 2 TAJEMNICĘ</text>
<circle cx="218.8" cy="593.2" r="35.6" fill="#ff3131"/><path d="M198.8,606.3L204.7,606.3L204.7,580.9L199.9,580.9L189.9,588.7L192.6,592.2L198.8,587.3Z" fill="#fff"/><text x="206.4" y="606.5" font-family="Liberation Sans, sans-serif" font-weight="bold" font-size="38" fill="#fff" stroke="#fff" stroke-width="0.6">3</text><g fill="#ff914d"><rect x="230.7" y="548.4" width="156.6" height="30.6" rx="4.5"/><rect x="230.7" y="578.5" width="124.8" height="34.6" rx="4.5"/><rect x="230.7" y="608.6" width="245.1" height="30.6" rx="4.5"/><rect x="230.7" y="574" width="124.8" height="13.5"/><path d="M355.5,583.5A4.5,4.5 0 0,1 360,579L355.5,579Z"/><rect x="230.7" y="604.1" width="124.8" height="13.5"/><path d="M355.5,604.1A4.5,4.5 0 0,0 360,608.6L355.5,608.6Z"/></g><text x="232.2" y="570.6" font-family="Liberation Sans, sans-serif" font-weight="bold" font-size="21" fill="#000" stroke="#000" stroke-width="0.6" stroke-linejoin="round" textLength="153.5" lengthAdjust="spacingAndGlyphs">CHWAŁA OJCU</text><text x="232.2" y="600.7" font-family="Liberation Sans, sans-serif" font-weight="bold" font-size="21" fill="#000" stroke="#000" stroke-width="0.6" stroke-linejoin="round" textLength="121.7" lengthAdjust="spacingAndGlyphs">O MÓJ JEZU</text><text x="232.2" y="630.8" font-family="Liberation Sans, sans-serif" font-weight="bold" font-size="21" fill="#000" stroke="#000" stroke-width="0.6" stroke-linejoin="round" textLength="242" lengthAdjust="spacingAndGlyphs">MÓWIMY 5 TAJEMNICĘ</text>
<circle cx="529" cy="562" r="35.6" fill="#ff3131"/><path d="M509.4,574.7L515.3,574.7L515.3,549.3L510.5,549.3L500.5,557.1L503.2,560.6L509.4,555.7Z" fill="#fff"/><text x="517" y="574.9" font-family="Liberation Sans, sans-serif" font-weight="bold" font-size="38" fill="#fff" stroke="#fff" stroke-width="0.6">5</text><g fill="#ffea0a"><rect x="542" y="514.3" width="169.9" height="32.8" rx="4.5"/><rect x="542" y="546.6" width="135.4" height="36.8" rx="4.5"/><rect x="542" y="578.9" width="247.2" height="33.6" rx="4.5"/><rect x="542" y="542.1" width="135.4" height="13.5"/><path d="M677.4,551.6A4.5,4.5 0 0,1 681.9,547.1L677.4,547.1Z"/><rect x="542" y="574.4" width="135.4" height="13.5"/><path d="M677.4,574.4A4.5,4.5 0 0,0 681.9,578.9L677.4,578.9Z"/></g><text x="543.7" y="538.4" font-family="Liberation Sans, sans-serif" font-weight="bold" font-size="22.8" fill="#000" stroke="#000" stroke-width="0.6" stroke-linejoin="round" textLength="166.6" lengthAdjust="spacingAndGlyphs">CHWAŁA OJCU</text><text x="543.7" y="570.7" font-family="Liberation Sans, sans-serif" font-weight="bold" font-size="22.8" fill="#000" stroke="#000" stroke-width="0.6" stroke-linejoin="round" textLength="132.1" lengthAdjust="spacingAndGlyphs">O MÓJ JEZU</text><text x="543.7" y="603" font-family="Liberation Sans, sans-serif" font-weight="bold" font-size="22.8" fill="#000" stroke="#000" stroke-width="0.6" stroke-linejoin="round" textLength="243.8" lengthAdjust="spacingAndGlyphs">POD TWOJĄ OBRONĘ</text>
<circle cx="458" cy="1018.4" r="35.6" fill="#ff3131"/><text x="452.3" y="1034.3" font-family="Liberation Sans, sans-serif" font-weight="bold" font-size="38" fill="#fff" stroke="#fff" stroke-width="0.6" text-anchor="middle">5</text><g fill="#ffea0a"><rect x="470.7" y="970.9" width="169.9" height="32.3" rx="4.5"/><rect x="470.7" y="1002.7" width="135.4" height="36.3" rx="4.5"/><rect x="470.7" y="1034.5" width="265.9" height="34.5" rx="4.5"/><rect x="470.7" y="998.2" width="135.4" height="13.5"/><path d="M606.1,1007.7A4.5,4.5 0 0,1 610.6,1003.2L606.1,1003.2Z"/><rect x="470.7" y="1030" width="135.4" height="13.5"/><path d="M606.1,1030A4.5,4.5 0 0,0 610.6,1034.5L606.1,1034.5Z"/></g><text x="472.4" y="995" font-family="Liberation Sans, sans-serif" font-weight="bold" font-size="22.8" fill="#000" stroke="#000" stroke-width="0.6" stroke-linejoin="round" textLength="166.6" lengthAdjust="spacingAndGlyphs">CHWAŁA OJCU</text><text x="472.4" y="1026.8" font-family="Liberation Sans, sans-serif" font-weight="bold" font-size="22.8" fill="#000" stroke="#000" stroke-width="0.6" stroke-linejoin="round" textLength="132.1" lengthAdjust="spacingAndGlyphs">O MÓJ JEZU</text><text x="472.4" y="1058.6" font-family="Liberation Sans, sans-serif" font-weight="bold" font-size="22.8" fill="#000" stroke="#000" stroke-width="0.6" stroke-linejoin="round" textLength="262.6" lengthAdjust="spacingAndGlyphs">MÓWIMY 1 TAJEMNICĘ</text>
<circle cx="558.5" cy="118.4" r="35.6" fill="#ff3131"/><path d="M538.9,131.4L544.8,131.4L544.8,106L540,106L530,113.8L532.7,117.3L538.9,112.4Z" fill="#fff"/><text x="546.5" y="131.6" font-family="Liberation Sans, sans-serif" font-weight="bold" font-size="38" fill="#fff" stroke="#fff" stroke-width="0.6">0</text><g fill="#ff914d"><rect x="572.8" y="84" width="143.5" height="37.6" rx="4.5"/><rect x="572.8" y="117.1" width="295.2" height="34.9" rx="4.5"/><rect x="572.8" y="112.6" width="143.5" height="13.5"/><path d="M716.3,112.6A4.5,4.5 0 0,0 720.8,117.1L716.3,117.1Z"/></g><text x="574.2" y="108.7" font-family="Liberation Sans, sans-serif" font-weight="bold" font-size="24.1" fill="#000" stroke="#000" stroke-width="0.6" stroke-linejoin="round" textLength="140.7" lengthAdjust="spacingAndGlyphs">OJCZE NASZ</text><text x="574.2" y="142.5" font-family="Liberation Sans, sans-serif" font-weight="bold" font-size="24.1" fill="#000" stroke="#000" stroke-width="0.6" stroke-linejoin="round" textLength="292.7" lengthAdjust="spacingAndGlyphs">ZDROWAŚ MARYJO (X10)</text>
<circle cx="310" cy="440.8" r="35.6" fill="#ff3131"/><path d="M290.4,454L296.3,454L296.3,428.6L291.5,428.6L281.5,436.4L284.2,439.9L290.4,435Z" fill="#fff"/><text x="298" y="454.2" font-family="Liberation Sans, sans-serif" font-weight="bold" font-size="38" fill="#fff" stroke="#fff" stroke-width="0.6">2</text><g fill="#ff914d"><rect x="324.1" y="406.6" width="143.5" height="37.6" rx="4.5"/><rect x="324.1" y="439.7" width="295.2" height="34.9" rx="4.5"/><rect x="324.1" y="435.2" width="143.5" height="13.5"/><path d="M467.6,435.2A4.5,4.5 0 0,0 472.1,439.7L467.6,439.7Z"/></g><text x="325.5" y="431.3" font-family="Liberation Sans, sans-serif" font-weight="bold" font-size="24.1" fill="#000" stroke="#000" stroke-width="0.6" stroke-linejoin="round" textLength="140.7" lengthAdjust="spacingAndGlyphs">OJCZE NASZ</text><text x="325.5" y="465.1" font-family="Liberation Sans, sans-serif" font-weight="bold" font-size="24.1" fill="#000" stroke="#000" stroke-width="0.6" stroke-linejoin="round" textLength="292.7" lengthAdjust="spacingAndGlyphs">ZDROWAŚ MARYJO (X10)</text>
<circle cx="934.2" cy="343.9" r="35.6" fill="#ff3131"/><text x="926.6" y="357.3" font-family="Liberation Sans, sans-serif" font-weight="bold" font-size="38" fill="#fff" stroke="#fff" stroke-width="0.6" text-anchor="middle">8</text><g fill="#ff914d"><rect x="947" y="310.3" width="143.5" height="37.6" rx="4.5"/><rect x="947" y="343.4" width="295.2" height="34.9" rx="4.5"/><rect x="947" y="338.9" width="143.5" height="13.5"/><path d="M1090.5,338.9A4.5,4.5 0 0,0 1095,343.4L1090.5,343.4Z"/></g><text x="948.4" y="335" font-family="Liberation Sans, sans-serif" font-weight="bold" font-size="24.1" fill="#000" stroke="#000" stroke-width="0.6" stroke-linejoin="round" textLength="140.7" lengthAdjust="spacingAndGlyphs">OJCZE NASZ</text><text x="948.4" y="368.8" font-family="Liberation Sans, sans-serif" font-weight="bold" font-size="24.1" fill="#000" stroke="#000" stroke-width="0.6" stroke-linejoin="round" textLength="292.7" lengthAdjust="spacingAndGlyphs">ZDROWAŚ MARYJO (X10)</text>
<circle cx="297.4" cy="729.5" r="35.6" fill="#ff3131"/><path d="M277.9,741.8L283.8,741.8L283.8,716.4L279,716.4L269,724.2L271.7,727.7L277.9,722.8Z" fill="#fff"/><text x="285.5" y="742" font-family="Liberation Sans, sans-serif" font-weight="bold" font-size="38" fill="#fff" stroke="#fff" stroke-width="0.6">4</text><g fill="#ff914d"><rect x="312.6" y="695" width="143.5" height="37.6" rx="4.5"/><rect x="312.6" y="728.1" width="295.2" height="34.9" rx="4.5"/><rect x="312.6" y="723.6" width="143.5" height="13.5"/><path d="M456.1,723.6A4.5,4.5 0 0,0 460.6,728.1L456.1,728.1Z"/></g><text x="314" y="719.7" font-family="Liberation Sans, sans-serif" font-weight="bold" font-size="24.1" fill="#000" stroke="#000" stroke-width="0.6" stroke-linejoin="round" textLength="140.7" lengthAdjust="spacingAndGlyphs">OJCZE NASZ</text><text x="314" y="753.5" font-family="Liberation Sans, sans-serif" font-weight="bold" font-size="24.1" fill="#000" stroke="#000" stroke-width="0.6" stroke-linejoin="round" textLength="292.7" lengthAdjust="spacingAndGlyphs">ZDROWAŚ MARYJO (X10)</text>
<circle cx="768.5" cy="695.3" r="35.6" fill="#ff3131"/><text x="763.2" y="708.8" font-family="Liberation Sans, sans-serif" font-weight="bold" font-size="38" fill="#fff" stroke="#fff" stroke-width="0.6" text-anchor="middle">6</text><g transform="rotate(-12.3 773.6 658.9)"><g fill="#ff914d"><rect x="773.6" y="658.9" width="143.5" height="37.6" rx="4.5"/><rect x="773.6" y="692" width="295.2" height="34.9" rx="4.5"/><rect x="773.6" y="687.5" width="143.5" height="13.5"/><path d="M917.1,687.5A4.5,4.5 0 0,0 921.6,692L917.1,692Z"/></g><text x="775" y="683.6" font-family="Liberation Sans, sans-serif" font-weight="bold" font-size="24.1" fill="#000" stroke="#000" stroke-width="0.6" stroke-linejoin="round" textLength="140.7" lengthAdjust="spacingAndGlyphs">OJCZE NASZ</text><text x="775" y="717.4" font-family="Liberation Sans, sans-serif" font-weight="bold" font-size="24.1" fill="#000" stroke="#000" stroke-width="0.6" stroke-linejoin="round" textLength="292.7" lengthAdjust="spacingAndGlyphs">ZDROWAŚ MARYJO (X10)</text></g>
<circle cx="975.3" cy="943.3" r="35.3" fill="#ff3131"/><text x="968.9" y="958.9" font-family="Liberation Sans, sans-serif" font-weight="bold" font-size="38" fill="#fff" stroke="#fff" stroke-width="0.6" text-anchor="middle">4</text><rect x="986" y="921.8" width="350.4" height="43.7" rx="5" fill="#ffea0a"/><text x="987.1" y="954" font-family="Liberation Sans, sans-serif" font-weight="bold" font-size="29" fill="#000" stroke="#000" stroke-width="0.6" stroke-linejoin="round" textLength="348.4" lengthAdjust="spacingAndGlyphs">ZDROWAŚ MARYJO (x3)</text>
<circle cx="987" cy="1071.8" r="35.3" fill="#ff3131"/><text x="979.7" y="1087.5" font-family="Liberation Sans, sans-serif" font-weight="bold" font-size="38" fill="#fff" stroke="#fff" stroke-width="0.6" text-anchor="middle">3</text><rect x="995.8" y="1050.8" width="179.8" height="42.7" rx="5" fill="#ffea0a"/><text x="997.9" y="1082" font-family="Liberation Sans, sans-serif" font-weight="bold" font-size="29" fill="#000" stroke="#000" stroke-width="0.6" stroke-linejoin="round" textLength="176.8" lengthAdjust="spacingAndGlyphs">OJCZE NASZ</text>
<circle cx="485" cy="1310.5" r="35.3" fill="#ff3131"/><text x="473.3" y="1326.6" font-family="Liberation Sans, sans-serif" font-weight="bold" font-size="38" fill="#fff" stroke="#fff" stroke-width="0.6" text-anchor="middle">2</text><rect x="492.3" y="1289.2" width="247.8" height="43.7" rx="5" fill="#ffea0a"/><text x="495.2" y="1321.4" font-family="Liberation Sans, sans-serif" font-weight="bold" font-size="29" fill="#000" stroke="#000" stroke-width="0.6" stroke-linejoin="round" textLength="244.4" lengthAdjust="spacingAndGlyphs">WIĘRZE W BOGA</text>
<circle cx="803.3" cy="1510" r="35.3" fill="#ff3131"/><path d="M792.5,1525.2L798.4,1525.2L798.4,1499.8L793.6,1499.8L783.6,1507.6L786.3,1511.1L792.5,1506.2Z" fill="#fff"/><rect x="807.4" y="1488.6" width="210.1" height="43.2" rx="5" fill="#ffea0a"/><text x="808.9" y="1520.4" font-family="Liberation Sans, sans-serif" font-weight="bold" font-size="29" fill="#000" stroke="#000" stroke-width="0.6" stroke-linejoin="round" textLength="206.8" lengthAdjust="spacingAndGlyphs">ZNAK KRZYŻA</text>
</g>
</svg>
</body></html>
